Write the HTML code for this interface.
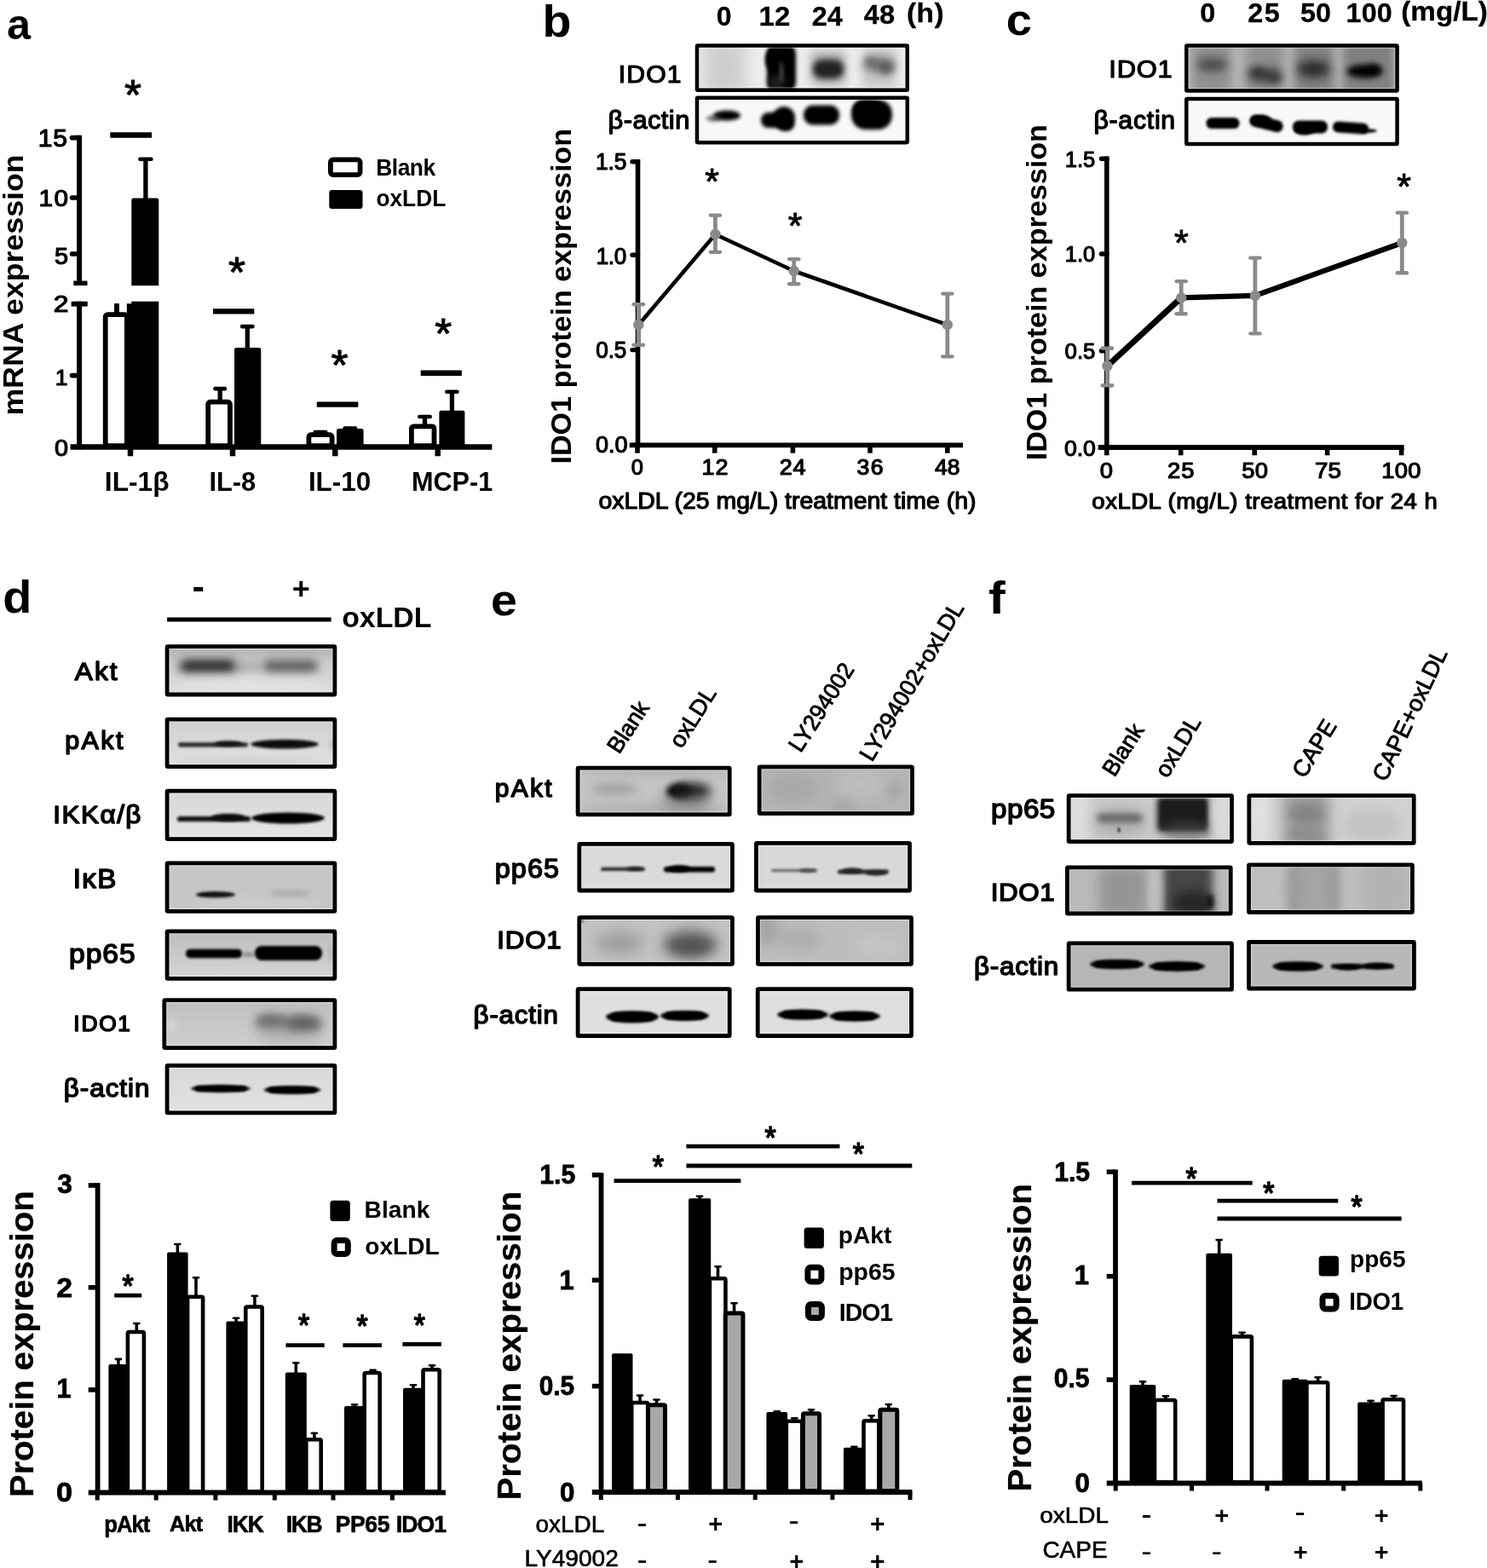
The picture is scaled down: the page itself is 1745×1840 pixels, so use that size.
<!DOCTYPE html>
<html lang="en"><head><meta charset="utf-8"><title>Figure</title>
<style>
html,body{margin:0;padding:0;background:#fff;}
body{width:1745px;height:1840px;overflow:hidden;}
svg{display:block;font-family:"Liberation Sans",Arial,Helvetica,sans-serif;}
</style></head><body>
<svg width="1745" height="1840" viewBox="0 0 1745 1840">
<defs>
<filter id="b1" x="-50%" y="-100%" width="200%" height="300%"><feGaussianBlur stdDeviation="1.2"/></filter>
<filter id="b1.2" x="-50%" y="-100%" width="200%" height="300%"><feGaussianBlur stdDeviation="1.4"/></filter>
<filter id="b2" x="-50%" y="-100%" width="200%" height="300%"><feGaussianBlur stdDeviation="2.2"/></filter>
<filter id="b2.2" x="-50%" y="-100%" width="200%" height="300%"><feGaussianBlur stdDeviation="1.8"/></filter>
<filter id="b3" x="-50%" y="-100%" width="200%" height="300%"><feGaussianBlur stdDeviation="3.5"/></filter>
<filter id="b5" x="-50%" y="-100%" width="200%" height="300%"><feGaussianBlur stdDeviation="5.5"/></filter>
<filter id="b8" x="-50%" y="-100%" width="200%" height="300%"><feGaussianBlur stdDeviation="8"/></filter>
</defs>
<rect width="1745" height="1840" fill="#fff"/>
<g id="panel-a">
<text transform="translate(9.50 45.80) scale(1.0020 1)" x="-1.51" y="0" font-size="50.23" font-weight="bold" fill="#000">a</text>
<text transform="translate(27.25 485.30) rotate(-90) scale(1.0500 1)" x="-2.21" y="0" font-size="33.99" font-weight="bold" fill="#000" letter-spacing="0.012">mRNA expression</text>
<line x1="93.1" y1="158.8" x2="93.1" y2="335" stroke="#000" stroke-width="6.0" stroke-linecap="butt"/>
<line x1="93.1" y1="353.8" x2="93.1" y2="527.5" stroke="#000" stroke-width="6.0" stroke-linecap="butt"/>
<line x1="82.5" y1="524.6" x2="577.4" y2="524.6" stroke="#000" stroke-width="6.5" stroke-linecap="butt"/>
<line x1="84.5" y1="161.6" x2="93.1" y2="161.6" stroke="#000" stroke-width="5.6" stroke-linecap="round"/>
<text transform="translate(46.30 171.61) scale(1.0500 1)" x="-1.58" y="0" font-size="28.67" font-weight="normal" fill="#000" letter-spacing="0.803" stroke="#000" stroke-width="1.2" stroke-linejoin="round">15</text>
<line x1="84.5" y1="232" x2="93.1" y2="232" stroke="#000" stroke-width="5.6" stroke-linecap="round"/>
<text transform="translate(47.00 241.62) scale(1.0500 1)" x="-1.55" y="0" font-size="28.27" font-weight="normal" fill="#000" letter-spacing="1.612" stroke="#000" stroke-width="1.2" stroke-linejoin="round">10</text>
<line x1="84.5" y1="298" x2="93.1" y2="298" stroke="#000" stroke-width="5.6" stroke-linecap="round"/>
<text transform="translate(64.50 310.12) scale(1.0234 1)" x="-0.55" y="0" font-size="28.39" font-weight="normal" fill="#000" stroke="#000" stroke-width="1.2" stroke-linejoin="round">5</text>
<text transform="translate(63.80 366.20) scale(1.1517 1)" x="-0.86" y="0" font-size="27.67" font-weight="normal" fill="#000" stroke="#000" stroke-width="1.2" stroke-linejoin="round">2</text>
<line x1="84.5" y1="440.6" x2="93.1" y2="440.6" stroke="#000" stroke-width="5.6" stroke-linecap="round"/>
<text transform="translate(66.07 451.90) scale(1.0000 1)" x="-1.40" y="0" font-size="26.62" font-weight="normal" fill="#000" stroke="#000" stroke-width="1.2" stroke-linejoin="round">1</text>
<text transform="translate(64.50 535.42) scale(1.0432 1)" x="-0.53" y="0" font-size="27.70" font-weight="normal" fill="#000" stroke="#000" stroke-width="1.2" stroke-linejoin="round">0</text>
<line x1="86.3" y1="332.3" x2="102.5" y2="332.3" stroke="#000" stroke-width="5.5" stroke-linecap="butt"/>
<line x1="83.8" y1="356.6" x2="102.5" y2="356.6" stroke="#000" stroke-width="5.5" stroke-linecap="butt"/>
<line x1="153" y1="524" x2="153" y2="535.3" stroke="#000" stroke-width="6.5" stroke-linecap="butt"/>
<line x1="273" y1="524" x2="273" y2="535.3" stroke="#000" stroke-width="6.5" stroke-linecap="butt"/>
<line x1="393.3" y1="524" x2="393.3" y2="535.3" stroke="#000" stroke-width="6.5" stroke-linecap="butt"/>
<line x1="513.7" y1="524" x2="513.7" y2="535.3" stroke="#000" stroke-width="6.5" stroke-linecap="butt"/>
<line x1="137" y1="356.3" x2="137" y2="370" stroke="#000" stroke-width="5.5" stroke-linecap="butt"/>
<rect x="123.7" y="369.2" width="25.200000000000014" height="153.89999999999998" fill="#fff" stroke="#000" stroke-width="5.8" rx="2.5" />
<line x1="170.9" y1="185.4" x2="170.9" y2="236" stroke="#000" stroke-width="5.3" stroke-linecap="butt"/>
<rect x="162.1" y="184.4" width="17.6" height="4.6" rx="2.3" fill="#000"/>
<rect x="154.3" y="232.5" width="32.0" height="293.5" fill="#000" stroke="none" stroke-width="0" rx="2.5" />
<rect x="148.8" y="356.3" width="10" height="168" fill="#000" stroke="none" stroke-width="0" rx="0" />
<rect x="110" y="335.2" width="80" height="18.5" fill="#fff" stroke="none" stroke-width="0" rx="0" />
<line x1="83.8" y1="356.6" x2="102.5" y2="356.6" stroke="#000" stroke-width="5.5" stroke-linecap="butt"/>
<line x1="137" y1="356.3" x2="137" y2="370" stroke="#000" stroke-width="5.5" stroke-linecap="butt"/>
<line x1="258.2" y1="454.8" x2="258.2" y2="472" stroke="#000" stroke-width="5.3" stroke-linecap="butt"/>
<rect x="250.04999999999998" y="453.8" width="16.3" height="4.6" rx="2.3" fill="#000"/>
<rect x="244.20000000000002" y="471.7" width="25.7" height="51.39999999999999" fill="#fff" stroke="#000" stroke-width="5.8" rx="2.5" />
<line x1="290.3" y1="381.8" x2="290.3" y2="412" stroke="#000" stroke-width="5.3" stroke-linecap="butt"/>
<rect x="281.8" y="380.8" width="17" height="4.6" rx="2.3" fill="#000"/>
<rect x="275" y="408" width="31.30000000000001" height="118" fill="#000" stroke="none" stroke-width="0" rx="2.5" />
<line x1="376" y1="505.8" x2="376" y2="512" stroke="#000" stroke-width="5.3" stroke-linecap="butt"/>
<rect x="367.5" y="504.8" width="17" height="4.6" rx="2.3" fill="#000"/>
<rect x="362.4" y="510.2" width="27.2" height="12.899999999999988" fill="#fff" stroke="#000" stroke-width="5.8" rx="2.5" />
<line x1="410.8" y1="501.3" x2="410.8" y2="508" stroke="#000" stroke-width="5.3" stroke-linecap="butt"/>
<rect x="402.3" y="500.3" width="17" height="4.6" rx="2.3" fill="#000"/>
<rect x="395" y="503" width="31.600000000000023" height="23" fill="#000" stroke="none" stroke-width="0" rx="2.5" />
<line x1="498.5" y1="487.7" x2="498.5" y2="500" stroke="#000" stroke-width="5.3" stroke-linecap="butt"/>
<rect x="490.0" y="486.7" width="17" height="4.6" rx="2.3" fill="#000"/>
<rect x="482.9" y="500.29999999999995" width="26.599999999999977" height="22.800000000000022" fill="#fff" stroke="#000" stroke-width="5.8" rx="2.5" />
<line x1="530.4" y1="458.5" x2="530.4" y2="486" stroke="#000" stroke-width="5.3" stroke-linecap="butt"/>
<rect x="522.05" y="457.5" width="16.7" height="4.6" rx="2.3" fill="#000"/>
<rect x="515.4" y="481.7" width="30.0" height="44.30000000000001" fill="#000" stroke="none" stroke-width="0" rx="2.5" />
<line x1="129.3" y1="158.5" x2="178" y2="158.5" stroke="#000" stroke-width="6.4" stroke-linecap="butt"/>
<text transform="translate(146.30 129.43) scale(1.0254 1)" x="-0.39" y="0" font-size="50.00" font-weight="normal" fill="#000" stroke="#000" stroke-width="1.0" stroke-linejoin="round">*</text>
<line x1="250" y1="365.4" x2="298.3" y2="365.4" stroke="#000" stroke-width="6.4" stroke-linecap="butt"/>
<text transform="translate(268.50 336.93) scale(1.0254 1)" x="-0.39" y="0" font-size="50.00" font-weight="normal" fill="#000" stroke="#000" stroke-width="1.0" stroke-linejoin="round">*</text>
<line x1="371.8" y1="474.6" x2="420.3" y2="474.6" stroke="#000" stroke-width="6.4" stroke-linecap="butt"/>
<text transform="translate(388.80 445.82) scale(1.0254 1)" x="-0.39" y="0" font-size="50.00" font-weight="normal" fill="#000" stroke="#000" stroke-width="1.0" stroke-linejoin="round">*</text>
<line x1="493.7" y1="437.8" x2="541.9" y2="437.8" stroke="#000" stroke-width="6.4" stroke-linecap="butt"/>
<text transform="translate(510.60 408.73) scale(1.0254 1)" x="-0.39" y="0" font-size="50.00" font-weight="normal" fill="#000" stroke="#000" stroke-width="1.0" stroke-linejoin="round">*</text>
<rect x="387.9" y="187.4" width="34.7" height="17.7" fill="#fff" stroke="#000" stroke-width="5.8" rx="3" />
<text transform="translate(443.00 205.53) scale(0.9600 1)" x="-1.86" y="0" font-size="27.48" font-weight="bold" fill="#000" letter-spacing="-0.499">Blank</text>
<rect x="386.3" y="223" width="39.2" height="22" fill="#000" stroke="none" stroke-width="0" rx="3" />
<text transform="translate(442.50 242.33) scale(0.9649 1)" x="-1.09" y="0" font-size="27.24" font-weight="bold" fill="#000">oxLDL</text>
<text transform="translate(125.00 575.55) scale(1.0191 1)" x="-2.10" y="0" font-size="31.10" font-weight="bold" fill="#000">IL-1β</text>
<text transform="translate(247.50 575.69) scale(0.9826 1)" x="-2.12" y="0" font-size="31.38" font-weight="bold" fill="#000">IL-8</text>
<text transform="translate(364.00 575.69) scale(1.0026 1)" x="-2.12" y="0" font-size="31.38" font-weight="bold" fill="#000">IL-10</text>
<text transform="translate(485.00 575.69) scale(0.9767 1)" x="-2.12" y="0" font-size="31.38" font-weight="bold" fill="#000">MCP-1</text>
</g>
<g id="panel-b">
<text transform="translate(640.00 43.17) scale(1.0530 1)" x="-3.42" y="0" font-size="52.65" font-weight="bold" fill="#000">b</text>
<text transform="translate(841.90 30.04) scale(1.0198 1)" x="-1.11" y="0" font-size="31.38" font-weight="bold" fill="#000" stroke="#000" stroke-width="0.3" stroke-linejoin="round">0</text>
<text transform="translate(892.40 29.55) scale(1.0500 1)" x="-1.82" y="0" font-size="31.40" font-weight="bold" fill="#000" letter-spacing="0.176" stroke="#000" stroke-width="0.3" stroke-linejoin="round">12</text>
<text transform="translate(953.60 29.55) scale(1.0329 1)" x="-0.95" y="0" font-size="31.40" font-weight="bold" fill="#000" stroke="#000" stroke-width="0.3" stroke-linejoin="round">24</text>
<text transform="translate(1014.20 27.54) scale(1.0384 1)" x="-0.33" y="0" font-size="31.38" font-weight="bold" fill="#000" stroke="#000" stroke-width="0.3" stroke-linejoin="round">48</text>
<text transform="translate(1065.50 25.74) scale(1.0500 1)" x="-1.45" y="0" font-size="31.85" font-weight="bold" fill="#000" letter-spacing="0.486" stroke="#000" stroke-width="0.3" stroke-linejoin="round">(h)</text>
<text transform="translate(728.00 96.81) scale(1.0500 1)" x="-2.08" y="0" font-size="28.69" font-weight="normal" fill="#000" letter-spacing="1.094" stroke="#000" stroke-width="1.2" stroke-linejoin="round">IDO1</text>
<text transform="translate(715.00 151.28) scale(1.0500 1)" x="-1.43" y="0" font-size="29.28" font-weight="normal" fill="#000" letter-spacing="0.463" stroke="#000" stroke-width="1.3" stroke-linejoin="round">β-actin</text>
<clipPath id="c1"><rect x="816.7" y="52.2" width="249.29999999999995" height="54.8"/></clipPath>
<g clip-path="url(#c1)">
<rect x="815.7" y="51.2" width="251.29999999999995" height="56.8" fill="#ececec" stroke="none" stroke-width="0" rx="0" />
<rect x="826" y="50" width="48" height="60" rx="2" fill="#b0b0b0" opacity="0.5" filter="url(#b8)"/>
<rect x="900" y="48" width="34" height="64" rx="16.15" fill="#000" opacity="1" filter="url(#b2)"/>
<ellipse cx="908" cy="70" rx="10" ry="14" fill="#000" opacity="1" filter="url(#b2)"/>
<ellipse cx="912" cy="97" rx="10" ry="10" fill="#222" opacity="0.9" filter="url(#b3)"/>
<ellipse cx="917" cy="84" rx="2.5" ry="12" fill="#555" opacity="0.8" filter="url(#b2)"/>
<rect x="954" y="70" width="36" height="22" rx="10.45" fill="#000" opacity="1" filter="url(#b3)"/>
<rect x="952" y="60" width="40" height="40" rx="2" fill="#555" opacity="0.4" filter="url(#b5)"/>
<ellipse cx="1032" cy="76" rx="18" ry="9" fill="#333" opacity="0.7" filter="url(#b5)"/>
<ellipse cx="1040" cy="80" rx="9" ry="8" fill="#222" opacity="0.6" filter="url(#b3)"/>
<ellipse cx="1022" cy="72" rx="8" ry="6" fill="#333" opacity="0.5" filter="url(#b3)"/>
<rect x="1012" y="56" width="40" height="48" rx="2" fill="#888" opacity="0.35" filter="url(#b5)"/>
<rect x="820.7" y="56.2" width="241.29999999999995" height="46.8" fill="none" stroke="#fff" stroke-width="1.2" rx="0" opacity="0.45"/>
</g>
<rect x="817.95" y="53.45" width="246.79999999999995" height="52.3" fill="none" stroke="#000" stroke-width="4.5" rx="0.8" />
<clipPath id="c2"><rect x="816.7" y="113.4" width="249.29999999999995" height="55.0"/></clipPath>
<g clip-path="url(#c2)">
<rect x="815.7" y="112.4" width="251.29999999999995" height="57.0" fill="#f8f8f8" stroke="none" stroke-width="0" rx="0" />
<ellipse cx="853" cy="135.5" rx="16" ry="6" fill="#000" opacity="1" filter="url(#b2)"/>
<ellipse cx="838" cy="139" rx="9" ry="3.5" fill="#333" opacity="0.7" filter="url(#b2)"/>
<rect x="893" y="132" width="30" height="18" rx="8.549999999999999" fill="#000" opacity="1" filter="url(#b2)"/>
<ellipse cx="920" cy="138" rx="13" ry="13" fill="#000" opacity="1" filter="url(#b2)"/>
<ellipse cx="922" cy="146" rx="10" ry="8" fill="#000" opacity="1" filter="url(#b2)"/>
<rect x="943" y="123.5" width="42" height="23.0" rx="10.924999999999999" fill="#000" opacity="1" filter="url(#b2)"/>
<rect x="999" y="117.0" width="48" height="35.0" rx="16.625" fill="#000" opacity="1" filter="url(#b2)"/>
<ellipse cx="1018" cy="128" rx="17" ry="12" fill="#000" opacity="1" filter="url(#b2)"/>
<rect x="820.7" y="117.4" width="241.29999999999995" height="47.0" fill="none" stroke="#fff" stroke-width="1.2" rx="0" opacity="0.45"/>
</g>
<rect x="817.95" y="114.65" width="246.79999999999995" height="52.5" fill="none" stroke="#000" stroke-width="4.5" rx="0.8" />
<line x1="749.3" y1="356" x2="749.3" y2="406" stroke="#8a8a8a" stroke-width="4.8" stroke-linecap="butt"/>
<rect x="741.5" y="355" width="15.6" height="4.3" rx="2.15" fill="#8a8a8a"/>
<rect x="741.5" y="402.7" width="15.6" height="4.3" rx="2.15" fill="#8a8a8a"/>
<line x1="839.4" y1="251.5" x2="839.4" y2="297" stroke="#8a8a8a" stroke-width="4.8" stroke-linecap="butt"/>
<rect x="831.6" y="250.5" width="15.6" height="4.3" rx="2.15" fill="#8a8a8a"/>
<rect x="831.6" y="293.7" width="15.6" height="4.3" rx="2.15" fill="#8a8a8a"/>
<line x1="931.7" y1="303" x2="931.7" y2="334.4" stroke="#8a8a8a" stroke-width="4.8" stroke-linecap="butt"/>
<rect x="923.9000000000001" y="302" width="15.6" height="4.3" rx="2.15" fill="#8a8a8a"/>
<rect x="923.9000000000001" y="331.09999999999997" width="15.6" height="4.3" rx="2.15" fill="#8a8a8a"/>
<line x1="1111.8" y1="343.4" x2="1111.8" y2="419.5" stroke="#8a8a8a" stroke-width="4.8" stroke-linecap="butt"/>
<rect x="1104.0" y="342.4" width="15.6" height="4.3" rx="2.15" fill="#8a8a8a"/>
<rect x="1104.0" y="416.2" width="15.6" height="4.3" rx="2.15" fill="#8a8a8a"/>
<line x1="748.5" y1="187" x2="748.5" y2="525.4" stroke="#000" stroke-width="5.6" stroke-linecap="butt"/>
<line x1="738.7" y1="522.4" x2="1130" y2="522.4" stroke="#000" stroke-width="5.8" stroke-linecap="butt"/>
<line x1="742.0" y1="189.7" x2="748.5" y2="189.7" stroke="#000" stroke-width="5.4" stroke-linecap="round"/>
<text transform="translate(700.50 198.92) scale(0.9600 1)" x="-1.44" y="0" font-size="27.53" font-weight="normal" fill="#000" letter-spacing="-0.205" stroke="#000" stroke-width="1.2" stroke-linejoin="round">1.5</text>
<line x1="742.0" y1="299.3" x2="748.5" y2="299.3" stroke="#000" stroke-width="5.4" stroke-linecap="round"/>
<text transform="translate(701.00 309.73) scale(0.9600 1)" x="-1.41" y="0" font-size="27.14" font-weight="normal" fill="#000" letter-spacing="-0.355" stroke="#000" stroke-width="1.2" stroke-linejoin="round">1.0</text>
<line x1="742.0" y1="410.6" x2="748.5" y2="410.6" stroke="#000" stroke-width="5.4" stroke-linecap="round"/>
<text transform="translate(699.80 419.53) scale(0.9600 1)" x="-0.46" y="0" font-size="27.14" font-weight="normal" fill="#000" letter-spacing="-0.171" stroke="#000" stroke-width="1.2" stroke-linejoin="round">0.5</text>
<line x1="742.0" y1="522.4" x2="748.5" y2="522.4" stroke="#000" stroke-width="5.4" stroke-linecap="round"/>
<text transform="translate(699.50 531.13) scale(0.9967 1)" x="-0.48" y="0" font-size="27.14" font-weight="normal" fill="#000" stroke="#000" stroke-width="1.2" stroke-linejoin="round">0.0</text>
<line x1="748" y1="522.4" x2="748" y2="531.6999999999999" stroke="#000" stroke-width="5.6" stroke-linecap="butt"/>
<text transform="translate(741.20 556.75) scale(1.0016 1)" x="-0.41" y="0" font-size="25.30" font-weight="normal" fill="#000" stroke="#000" stroke-width="1.2" stroke-linejoin="round">0</text>
<line x1="838.7" y1="522.4" x2="838.7" y2="531.6999999999999" stroke="#000" stroke-width="5.6" stroke-linecap="butt"/>
<text transform="translate(825.00 557.00) scale(1.0500 1)" x="-1.35" y="0" font-size="25.66" font-weight="normal" fill="#000" letter-spacing="0.912" stroke="#000" stroke-width="1.2" stroke-linejoin="round">12</text>
<line x1="930.4" y1="522.4" x2="930.4" y2="531.6999999999999" stroke="#000" stroke-width="5.6" stroke-linecap="butt"/>
<text transform="translate(915.60 557.00) scale(1.0500 1)" x="-0.71" y="0" font-size="25.66" font-weight="normal" fill="#000" letter-spacing="0.741" stroke="#000" stroke-width="1.2" stroke-linejoin="round">24</text>
<line x1="1021" y1="522.4" x2="1021" y2="531.6999999999999" stroke="#000" stroke-width="5.6" stroke-linecap="butt"/>
<text transform="translate(1006.00 556.75) scale(1.0500 1)" x="-0.38" y="0" font-size="25.30" font-weight="normal" fill="#000" letter-spacing="1.369" stroke="#000" stroke-width="1.2" stroke-linejoin="round">36</text>
<line x1="1111.8" y1="522.4" x2="1111.8" y2="531.6999999999999" stroke="#000" stroke-width="5.6" stroke-linecap="butt"/>
<text transform="translate(1097.00 556.75) scale(1.0401 1)" x="0.01" y="0" font-size="25.30" font-weight="normal" fill="#000" stroke="#000" stroke-width="1.2" stroke-linejoin="round">48</text>
<line x1="749.3" y1="356" x2="749.3" y2="406" stroke="#8a8a8a" stroke-width="4.8" stroke-linecap="butt"/>
<rect x="741.5" y="355" width="15.6" height="4.3" rx="2.15" fill="#8a8a8a"/>
<rect x="741.5" y="402.7" width="15.6" height="4.3" rx="2.15" fill="#8a8a8a"/>
<line x1="749.3" y1="381.2" x2="839.4" y2="275" stroke="#000" stroke-width="4.6" stroke-linecap="round"/>
<line x1="839.4" y1="275" x2="931.7" y2="318" stroke="#000" stroke-width="4.6" stroke-linecap="round"/>
<line x1="931.7" y1="318" x2="1111.8" y2="381.2" stroke="#000" stroke-width="4.6" stroke-linecap="round"/>
<circle cx="749.3" cy="381.2" r="6.2" fill="#8a8a8a"/>
<circle cx="839.4" cy="275" r="6.2" fill="#8a8a8a"/>
<circle cx="931.7" cy="318" r="6.2" fill="#8a8a8a"/>
<circle cx="1111.8" cy="381.2" r="6.2" fill="#8a8a8a"/>
<text transform="translate(827.60 226.56) scale(0.9859 1)" x="-0.25" y="0" font-size="43.43" font-weight="normal" fill="#000" stroke="#000" stroke-width="1.0" stroke-linejoin="round">*</text>
<text transform="translate(924.90 279.46) scale(0.9859 1)" x="-0.25" y="0" font-size="43.43" font-weight="normal" fill="#000" stroke="#000" stroke-width="1.0" stroke-linejoin="round">*</text>
<text transform="translate(703.00 597.43) scale(1.0405 1)" x="-0.59" y="0" font-size="27.35" font-weight="normal" fill="#000" stroke="#000" stroke-width="1.2" stroke-linejoin="round">oxLDL (25 mg/L) treatment time (h)</text>
<text transform="translate(670.38 542.20) rotate(-90) scale(1.0210 1)" x="-2.25" y="0" font-size="33.35" font-weight="bold" fill="#000">IDO1 protein expression</text>
</g>
<g id="panel-c">
<text transform="translate(1182.90 41.48) scale(1.0516 1)" x="-2.07" y="0" font-size="51.69" font-weight="bold" fill="#000">c</text>
<text transform="translate(1409.50 25.94) scale(1.0522 1)" x="-1.09" y="0" font-size="30.81" font-weight="bold" fill="#000" stroke="#000" stroke-width="0.3" stroke-linejoin="round">0</text>
<text transform="translate(1465.20 25.94) scale(1.0500 1)" x="-0.94" y="0" font-size="30.81" font-weight="bold" fill="#000" letter-spacing="1.438" stroke="#000" stroke-width="0.3" stroke-linejoin="round">25</text>
<text transform="translate(1526.90 25.94) scale(1.0500 1)" x="-0.78" y="0" font-size="30.81" font-weight="bold" fill="#000" letter-spacing="0.050" stroke="#000" stroke-width="0.3" stroke-linejoin="round">50</text>
<text transform="translate(1581.40 25.94) scale(1.0500 1)" x="-1.78" y="0" font-size="30.81" font-weight="bold" fill="#000" letter-spacing="0.127" stroke="#000" stroke-width="0.3" stroke-linejoin="round">100</text>
<text transform="translate(1645.80 24.32) scale(1.0490 1)" x="-1.44" y="0" font-size="31.68" font-weight="bold" fill="#000" stroke="#000" stroke-width="0.3" stroke-linejoin="round">(mg/L)</text>
<text transform="translate(1303.60 91.11) scale(1.0500 1)" x="-2.15" y="0" font-size="29.40" font-weight="normal" fill="#000" letter-spacing="0.736" stroke="#000" stroke-width="1.2" stroke-linejoin="round">IDO1</text>
<text transform="translate(1284.90 151.41) scale(1.0500 1)" x="-1.39" y="0" font-size="28.63" font-weight="normal" fill="#000" letter-spacing="0.772" stroke="#000" stroke-width="1.3" stroke-linejoin="round">β-actin</text>
<clipPath id="c3"><rect x="1391" y="52.2" width="249.79999999999995" height="55.5"/></clipPath>
<g clip-path="url(#c3)">
<rect x="1390" y="51.2" width="251.79999999999995" height="57.5" fill="#b4b4b4" stroke="none" stroke-width="0" rx="0" />
<rect x="1400" y="50" width="44" height="60" rx="2" fill="#8c8c8c" opacity="0.9" filter="url(#b5)"/>
<rect x="1462" y="50" width="44" height="60" rx="2" fill="#8c8c8c" opacity="0.9" filter="url(#b5)"/>
<rect x="1519" y="50" width="46" height="60" rx="2" fill="#7c7c7c" opacity="0.9" filter="url(#b5)"/>
<rect x="1576" y="50" width="60" height="60" rx="2" fill="#7a7a7a" opacity="0.9" filter="url(#b5)"/>
<ellipse cx="1422.7" cy="76" rx="18" ry="8" fill="#333" opacity="0.75" filter="url(#b5)"/>
<ellipse cx="1484" cy="88" rx="20" ry="9" fill="#2a2a2a" opacity="0.8" filter="url(#b5)"/>
<ellipse cx="1475" cy="84" rx="8" ry="6" fill="#222" opacity="0.5" filter="url(#b3)"/>
<ellipse cx="1496" cy="92" rx="8" ry="6" fill="#222" opacity="0.5" filter="url(#b3)"/>
<ellipse cx="1541.4" cy="81" rx="19" ry="10" fill="#1a1a1a" opacity="0.85" filter="url(#b5)"/>
<ellipse cx="1601.4" cy="83.7" rx="21" ry="8" fill="#000" opacity="1" filter="url(#b3)"/>
<ellipse cx="1612" cy="81" rx="8" ry="6" fill="#000" opacity="0.8" filter="url(#b3)"/>
<rect x="1395.0" y="56.2" width="241.79999999999995" height="47.5" fill="none" stroke="#fff" stroke-width="1.2" rx="0" opacity="0.45"/>
</g>
<rect x="1392.25" y="53.45" width="247.29999999999995" height="53.0" fill="none" stroke="#000" stroke-width="4.5" rx="0.8" />
<clipPath id="c4"><rect x="1391" y="114.7" width="249.79999999999995" height="55.499999999999986"/></clipPath>
<g clip-path="url(#c4)">
<rect x="1390" y="113.7" width="251.79999999999995" height="57.499999999999986" fill="#f8f8f8" stroke="none" stroke-width="0" rx="0" />
<rect x="1415.5" y="137.9" width="39.0" height="13.2" rx="6.27" fill="#000" opacity="1" filter="url(#b1.2)"/>
<rect x="1466" y="138" width="40" height="14" rx="6.6499999999999995" fill="#000" opacity="1" filter="url(#b1.2)" transform="rotate(14 1486 145)"/>
<ellipse cx="1480" cy="141" rx="12" ry="6.5" fill="#000" opacity="1" filter="url(#b1.2)"/>
<rect x="1517.0" y="141.5" width="41.0" height="15.0" rx="7.125" fill="#000" opacity="1" filter="url(#b1.2)"/>
<ellipse cx="1531" cy="152" rx="12" ry="6.5" fill="#000" opacity="1" filter="url(#b1.2)"/>
<rect x="1564" y="143.5" width="42" height="13.0" rx="6.175" fill="#000" opacity="1" filter="url(#b1.2)" transform="rotate(4 1585 150)"/>
<ellipse cx="1606" cy="153.5" rx="10" ry="2.2" fill="#000" opacity="1" filter="url(#b1.2)"/>
<rect x="1395.0" y="118.7" width="241.79999999999995" height="47.499999999999986" fill="none" stroke="#fff" stroke-width="1.2" rx="0" opacity="0.45"/>
</g>
<rect x="1392.25" y="115.95" width="247.29999999999995" height="52.999999999999986" fill="none" stroke="#000" stroke-width="4.5" rx="0.8" />
<line x1="1299.4" y1="407.5" x2="1299.4" y2="453.5" stroke="#8a8a8a" stroke-width="4.8" stroke-linecap="butt"/>
<rect x="1291.6000000000001" y="406.5" width="15.6" height="4.3" rx="2.15" fill="#8a8a8a"/>
<rect x="1291.6000000000001" y="450.2" width="15.6" height="4.3" rx="2.15" fill="#8a8a8a"/>
<line x1="1386.2" y1="329" x2="1386.2" y2="369.4" stroke="#8a8a8a" stroke-width="4.8" stroke-linecap="butt"/>
<rect x="1378.4" y="328" width="15.6" height="4.3" rx="2.15" fill="#8a8a8a"/>
<rect x="1378.4" y="366.09999999999997" width="15.6" height="4.3" rx="2.15" fill="#8a8a8a"/>
<line x1="1472.9" y1="301.4" x2="1472.9" y2="392.6" stroke="#8a8a8a" stroke-width="4.8" stroke-linecap="butt"/>
<rect x="1465.1000000000001" y="300.4" width="15.6" height="4.3" rx="2.15" fill="#8a8a8a"/>
<rect x="1465.1000000000001" y="389.3" width="15.6" height="4.3" rx="2.15" fill="#8a8a8a"/>
<line x1="1645.3" y1="248.5" x2="1645.3" y2="321.4" stroke="#8a8a8a" stroke-width="4.8" stroke-linecap="butt"/>
<rect x="1637.5" y="247.5" width="15.6" height="4.3" rx="2.15" fill="#8a8a8a"/>
<rect x="1637.5" y="318.09999999999997" width="15.6" height="4.3" rx="2.15" fill="#8a8a8a"/>
<line x1="1298.8" y1="183.5" x2="1298.8" y2="528" stroke="#000" stroke-width="5.6" stroke-linecap="butt"/>
<line x1="1288.7" y1="525" x2="1647.6" y2="525" stroke="#000" stroke-width="5.8" stroke-linecap="butt"/>
<line x1="1292.4" y1="186.3" x2="1298.8" y2="186.3" stroke="#000" stroke-width="5.4" stroke-linecap="round"/>
<text transform="translate(1251.10 195.54) scale(0.9692 1)" x="-1.36" y="0" font-size="26.38" font-weight="normal" fill="#000" stroke="#000" stroke-width="1.2" stroke-linejoin="round">1.5</text>
<line x1="1292.4" y1="298" x2="1298.8" y2="298" stroke="#000" stroke-width="5.4" stroke-linecap="round"/>
<text transform="translate(1251.10 307.24) scale(0.9812 1)" x="-1.34" y="0" font-size="26.01" font-weight="normal" fill="#000" stroke="#000" stroke-width="1.2" stroke-linejoin="round">1.0</text>
<line x1="1292.4" y1="411.8" x2="1298.8" y2="411.8" stroke="#000" stroke-width="5.4" stroke-linecap="round"/>
<text transform="translate(1250.00 420.94) scale(0.9892 1)" x="-0.43" y="0" font-size="26.01" font-weight="normal" fill="#000" stroke="#000" stroke-width="1.2" stroke-linejoin="round">0.5</text>
<line x1="1292.4" y1="525" x2="1298.8" y2="525" stroke="#000" stroke-width="5.4" stroke-linecap="round"/>
<text transform="translate(1249.40 534.54) scale(1.0195 1)" x="-0.45" y="0" font-size="26.01" font-weight="normal" fill="#000" stroke="#000" stroke-width="1.2" stroke-linejoin="round">0.0</text>
<line x1="1298.7" y1="525" x2="1298.7" y2="534.3" stroke="#000" stroke-width="5.6" stroke-linecap="butt"/>
<text transform="translate(1291.20 560.74) scale(1.0468 1)" x="-0.47" y="0" font-size="26.01" font-weight="normal" fill="#000" stroke="#000" stroke-width="1.2" stroke-linejoin="round">0</text>
<line x1="1385.7" y1="525" x2="1385.7" y2="534.3" stroke="#000" stroke-width="5.6" stroke-linecap="butt"/>
<text transform="translate(1370.80 560.74) scale(1.0500 1)" x="-0.73" y="0" font-size="26.01" font-weight="normal" fill="#000" letter-spacing="0.901" stroke="#000" stroke-width="1.2" stroke-linejoin="round">25</text>
<line x1="1472.2" y1="525" x2="1472.2" y2="534.3" stroke="#000" stroke-width="5.6" stroke-linecap="butt"/>
<text transform="translate(1457.80 560.74) scale(1.0500 1)" x="-0.47" y="0" font-size="26.01" font-weight="normal" fill="#000" letter-spacing="0.291" stroke="#000" stroke-width="1.2" stroke-linejoin="round">50</text>
<line x1="1557.6" y1="525" x2="1557.6" y2="534.3" stroke="#000" stroke-width="5.6" stroke-linecap="butt"/>
<text transform="translate(1543.90 560.74) scale(1.0500 1)" x="-0.81" y="0" font-size="26.38" font-weight="normal" fill="#000" letter-spacing="0.111" stroke="#000" stroke-width="1.2" stroke-linejoin="round">75</text>
<line x1="1644.6" y1="525" x2="1644.6" y2="534.3" stroke="#000" stroke-width="5.6" stroke-linecap="butt"/>
<text transform="translate(1622.60 560.74) scale(1.0500 1)" x="-1.38" y="0" font-size="26.01" font-weight="normal" fill="#000" letter-spacing="0.399" stroke="#000" stroke-width="1.2" stroke-linejoin="round">100</text>
<line x1="1299.4" y1="407.5" x2="1299.4" y2="453.5" stroke="#8a8a8a" stroke-width="4.8" stroke-linecap="butt"/>
<rect x="1291.6000000000001" y="406.5" width="15.6" height="4.3" rx="2.15" fill="#8a8a8a"/>
<rect x="1291.6000000000001" y="450.2" width="15.6" height="4.3" rx="2.15" fill="#8a8a8a"/>
<line x1="1299.4" y1="429.5" x2="1386.2" y2="349.4" stroke="#000" stroke-width="7" stroke-linecap="round"/>
<line x1="1386.2" y1="349.4" x2="1472.9" y2="346.9" stroke="#000" stroke-width="6.2" stroke-linecap="round"/>
<line x1="1472.9" y1="346.9" x2="1645.3" y2="285" stroke="#000" stroke-width="6.2" stroke-linecap="round"/>
<circle cx="1299.4" cy="429.5" r="6.2" fill="#8a8a8a"/>
<circle cx="1386.2" cy="349.4" r="6.2" fill="#8a8a8a"/>
<circle cx="1472.9" cy="346.9" r="6.2" fill="#8a8a8a"/>
<circle cx="1645.3" cy="285" r="6.2" fill="#8a8a8a"/>
<text transform="translate(1378.30 299.06) scale(0.9859 1)" x="-0.25" y="0" font-size="43.43" font-weight="normal" fill="#000" stroke="#000" stroke-width="1.0" stroke-linejoin="round">*</text>
<text transform="translate(1639.60 233.06) scale(0.9859 1)" x="-0.25" y="0" font-size="43.43" font-weight="normal" fill="#000" stroke="#000" stroke-width="1.0" stroke-linejoin="round">*</text>
<text transform="translate(1281.90 596.77) scale(1.0500 1)" x="-0.54" y="0" font-size="26.17" font-weight="normal" fill="#000" letter-spacing="0.495" stroke="#000" stroke-width="1.2" stroke-linejoin="round">oxLDL (mg/L) treatment for 24 h</text>
<text transform="translate(1228.08 538.00) rotate(-90) scale(1.0231 1)" x="-2.25" y="0" font-size="33.35" font-weight="bold" fill="#000">IDO1 protein expression</text>
</g>
<g id="panel-d">
<text transform="translate(5.50 719.46) scale(1.0391 1)" x="-2.15" y="0" font-size="53.74" font-weight="bold" fill="#000">d</text>
<text transform="translate(227.20 702.73) scale(1.0455 1)" x="-1.67" y="0" font-size="41.67" font-weight="bold" fill="#000">-</text>
<text transform="translate(344.30 702.76) scale(1.0440 1)" x="-1.47" y="0" font-size="34.48" font-weight="bold" fill="#000">+</text>
<line x1="196.1" y1="726.9" x2="388.6" y2="726.9" stroke="#000" stroke-width="5" stroke-linecap="butt"/>
<text transform="translate(402.50 735.86) scale(0.9920 1)" x="-1.36" y="0" font-size="34.12" font-weight="bold" fill="#000">oxLDL</text>
<text transform="translate(87.00 797.92) scale(1.0500 1)" x="0.64" y="0" font-size="30.03" font-weight="normal" fill="#000" letter-spacing="2.117" stroke="#000" stroke-width="1.5" stroke-linejoin="round">Akt</text>
<text transform="translate(77.50 879.22) scale(1.0500 1)" x="-1.17" y="0" font-size="29.06" font-weight="normal" fill="#000" letter-spacing="2.249" stroke="#000" stroke-width="1.5" stroke-linejoin="round">pAkt</text>
<text transform="translate(64.50 966.02) scale(1.0500 1)" x="-2.06" y="0" font-size="30.03" font-weight="normal" fill="#000" letter-spacing="1.382" stroke="#000" stroke-width="1.5" stroke-linejoin="round">IKKα/β</text>
<text transform="translate(88.00 1041.85) scale(1.0500 1)" x="-2.21" y="0" font-size="31.56" font-weight="normal" fill="#000" letter-spacing="1.341" stroke="#000" stroke-width="1.5" stroke-linejoin="round">IκB</text>
<text transform="translate(82.50 1130.10) scale(1.0500 1)" x="-1.37" y="0" font-size="32.04" font-weight="normal" fill="#000" letter-spacing="0.874" stroke="#000" stroke-width="1.5" stroke-linejoin="round">pp65</text>
<text transform="translate(88.00 1209.80) scale(1.0500 1)" x="-1.60" y="0" font-size="25.02" font-weight="normal" fill="#000" letter-spacing="1.685" stroke="#000" stroke-width="1.5" stroke-linejoin="round">IDO1</text>
<text transform="translate(76.20 1287.44) scale(1.0500 1)" x="-1.38" y="0" font-size="29.92" font-weight="normal" fill="#000" letter-spacing="0.931" stroke="#000" stroke-width="1.5" stroke-linejoin="round">β-actin</text>
<clipPath id="c5"><rect x="194.7" y="757.2" width="199.60000000000002" height="59.19999999999993"/></clipPath>
<g clip-path="url(#c5)">
<linearGradient id="g5" x1="0" y1="0" x2="0" y2="1"><stop offset="0" stop-color="#c4c4c4"/><stop offset="1" stop-color="#dedede"/></linearGradient>
<rect x="193.7" y="756.2" width="201.60000000000002" height="61.19999999999993" fill="url(#g5)" stroke="none" stroke-width="0" rx="0" />
<rect x="185" y="758" width="220" height="12" rx="2" fill="#b0b0b0" opacity="0.8" filter="url(#b5)"/>
<rect x="210" y="774.5" width="68" height="15.0" rx="7.125" fill="#2a2a2a" opacity="0.9" filter="url(#b5)"/>
<rect x="218" y="776" width="52" height="10" rx="4.75" fill="#333" opacity="0.6" filter="url(#b3)"/>
<rect x="309" y="775" width="64" height="14" rx="6.6499999999999995" fill="#3a3a3a" opacity="0.8" filter="url(#b5)"/>
<ellipse cx="292" cy="783" rx="20" ry="5" fill="#777" opacity="0.5" filter="url(#b5)"/>
<ellipse cx="295" cy="804" rx="95" ry="8" fill="#ededed" opacity="0.6" filter="url(#b8)"/>
<rect x="199.0" y="761.5" width="191.00000000000003" height="50.59999999999993" fill="none" stroke="#fff" stroke-width="1.2" rx="0" opacity="0.45"/>
</g>
<rect x="196.1" y="758.6" width="196.8" height="56.399999999999935" fill="none" stroke="#000" stroke-width="4.8" rx="0.8" />
<clipPath id="c6"><rect x="194.7" y="842.7" width="199.60000000000002" height="58.299999999999955"/></clipPath>
<g clip-path="url(#c6)">
<linearGradient id="g6" x1="0" y1="0" x2="0" y2="1"><stop offset="0" stop-color="#cfcfcf"/><stop offset="1" stop-color="#e2e2e2"/></linearGradient>
<rect x="193.7" y="841.7" width="201.60000000000002" height="60.299999999999955" fill="url(#g6)" stroke="none" stroke-width="0" rx="0" />
<rect x="209" y="871.1999999999999" width="82" height="5.2" rx="2.4699999999999998" fill="#1a1a1a" opacity="0.95" filter="url(#b2.2)"/>
<ellipse cx="268" cy="872.5" rx="16" ry="3.2" fill="#111" opacity="0.9" filter="url(#b2.2)"/>
<ellipse cx="334" cy="873.2" rx="40" ry="5.4" fill="#0a0a0a" opacity="1" filter="url(#b2.2)"/>
<ellipse cx="290" cy="893.5" rx="85" ry="2.5" fill="#aaa" opacity="0.55" filter="url(#b5)"/>
<ellipse cx="392" cy="874" rx="4" ry="5" fill="#777" opacity="0.6" filter="url(#b3)"/>
<rect x="199.0" y="847.0" width="191.00000000000003" height="49.69999999999995" fill="none" stroke="#fff" stroke-width="1.2" rx="0" opacity="0.45"/>
</g>
<rect x="196.1" y="844.1" width="196.8" height="55.49999999999996" fill="none" stroke="#000" stroke-width="4.8" rx="0.8" />
<clipPath id="c7"><rect x="194.7" y="926.7" width="199.60000000000002" height="59.299999999999955"/></clipPath>
<g clip-path="url(#c7)">
<linearGradient id="g7" x1="0" y1="0" x2="0" y2="1"><stop offset="0" stop-color="#d6d6d6"/><stop offset="1" stop-color="#e6e6e6"/></linearGradient>
<rect x="193.7" y="925.7" width="201.60000000000002" height="61.299999999999955" fill="url(#g7)" stroke="none" stroke-width="0" rx="0" />
<rect x="208" y="957.9" width="86" height="6.2" rx="2.945" fill="#111" opacity="1" filter="url(#b2.2)"/>
<ellipse cx="268" cy="959.2" rx="20" ry="4.4" fill="#111" opacity="1" filter="url(#b2.2)"/>
<ellipse cx="338" cy="960" rx="43" ry="6.6" fill="#050505" opacity="1" filter="url(#b2.2)"/>
<rect x="199.0" y="931.0" width="191.00000000000003" height="50.69999999999995" fill="none" stroke="#fff" stroke-width="1.2" rx="0" opacity="0.45"/>
</g>
<rect x="196.1" y="928.1" width="196.8" height="56.49999999999996" fill="none" stroke="#000" stroke-width="4.8" rx="0.8" />
<clipPath id="c8"><rect x="194.7" y="1011.4" width="199.60000000000002" height="59.30000000000007"/></clipPath>
<g clip-path="url(#c8)">
<rect x="193.7" y="1010.4" width="201.60000000000002" height="61.30000000000007" fill="#c6c6c6" stroke="none" stroke-width="0" rx="0" />
<ellipse cx="253" cy="1050" rx="23" ry="3.8" fill="#000" opacity="1" filter="url(#b2.2)"/>
<ellipse cx="340" cy="1049" rx="24" ry="2.5" fill="#666" opacity="0.5" filter="url(#b3)"/>
<ellipse cx="300" cy="1060" rx="80" ry="6" fill="#d2d2d2" opacity="0.6" filter="url(#b5)"/>
<rect x="199.0" y="1015.6999999999999" width="191.00000000000003" height="50.70000000000007" fill="none" stroke="#fff" stroke-width="1.2" rx="0" opacity="0.45"/>
</g>
<rect x="196.1" y="1012.8" width="196.8" height="56.50000000000007" fill="none" stroke="#000" stroke-width="4.8" rx="0.8" />
<clipPath id="c9"><rect x="194.7" y="1091.5" width="199.60000000000002" height="58.200000000000045"/></clipPath>
<g clip-path="url(#c9)">
<linearGradient id="g9" x1="0" y1="0" x2="0" y2="1"><stop offset="0" stop-color="#bcbcbc"/><stop offset="1" stop-color="#d6d6d6"/></linearGradient>
<rect x="193.7" y="1090.5" width="201.60000000000002" height="60.200000000000045" fill="url(#g9)" stroke="none" stroke-width="0" rx="0" />
<rect x="218" y="1113.8" width="66" height="10.4" rx="4.9399999999999995" fill="#000" opacity="1" filter="url(#b2.2)"/>
<rect x="299.0" y="1109.9" width="79.0" height="17.2" rx="8.17" fill="#000" opacity="1" filter="url(#b2.2)"/>
<ellipse cx="292" cy="1120" rx="8" ry="2" fill="#555" opacity="0.7" filter="url(#b2)"/>
<ellipse cx="391" cy="1120" rx="4" ry="8" fill="#888" opacity="0.5" filter="url(#b3)"/>
<rect x="199.0" y="1095.8" width="191.00000000000003" height="49.600000000000044" fill="none" stroke="#fff" stroke-width="1.2" rx="0" opacity="0.45"/>
</g>
<rect x="196.1" y="1092.9" width="196.8" height="55.40000000000005" fill="none" stroke="#000" stroke-width="4.8" rx="0.8" />
<clipPath id="c10"><rect x="191.4" y="1172.2" width="202.9" height="58.799999999999955"/></clipPath>
<g clip-path="url(#c10)">
<linearGradient id="g10" x1="0" y1="0" x2="0" y2="1"><stop offset="0" stop-color="#bdbdbd"/><stop offset="1" stop-color="#d0d0d0"/></linearGradient>
<rect x="190.4" y="1171.2" width="204.9" height="60.799999999999955" fill="url(#g10)" stroke="none" stroke-width="0" rx="0" />
<ellipse cx="318" cy="1198" rx="18" ry="7.5" fill="#4a4a4a" opacity="0.7" filter="url(#b5)"/>
<ellipse cx="355" cy="1201" rx="22" ry="8.5" fill="#3a3a3a" opacity="0.8" filter="url(#b5)"/>
<rect x="300" y="1191" width="76" height="18" rx="8.549999999999999" fill="#666" opacity="0.4" filter="url(#b5)"/>
<ellipse cx="340" cy="1214" rx="40" ry="10" fill="#888" opacity="0.4" filter="url(#b8)"/>
<ellipse cx="201" cy="1203" rx="5" ry="7" fill="#e0e0e0" opacity="0.8" filter="url(#b3)"/>
<rect x="195.70000000000002" y="1176.5" width="194.3" height="50.19999999999995" fill="none" stroke="#fff" stroke-width="1.2" rx="0" opacity="0.45"/>
</g>
<rect x="192.8" y="1173.6000000000001" width="200.1" height="55.99999999999996" fill="none" stroke="#000" stroke-width="4.8" rx="0.8" />
<clipPath id="c11"><rect x="194.7" y="1249" width="199.60000000000002" height="58.200000000000045"/></clipPath>
<g clip-path="url(#c11)">
<linearGradient id="g11" x1="0" y1="0" x2="0" y2="1"><stop offset="0" stop-color="#d8d8d8"/><stop offset="1" stop-color="#e2e2e2"/></linearGradient>
<rect x="193.7" y="1248" width="201.60000000000002" height="60.200000000000045" fill="url(#g11)" stroke="none" stroke-width="0" rx="0" />
<ellipse cx="259" cy="1277.4" rx="35" ry="4.3" fill="#000" opacity="1" filter="url(#b2.2)"/>
<rect x="229" y="1274.4" width="60" height="6" rx="2.8499999999999996" fill="#000" opacity="1" filter="url(#b2.2)"/>
<ellipse cx="343" cy="1279" rx="33.5" ry="4.8" fill="#000" opacity="1" filter="url(#b2.2)"/>
<rect x="315" y="1275.8" width="56" height="6.4" rx="3.04" fill="#000" opacity="1" filter="url(#b2.2)"/>
<rect x="199.0" y="1253.3" width="191.00000000000003" height="49.600000000000044" fill="none" stroke="#fff" stroke-width="1.2" rx="0" opacity="0.45"/>
</g>
<rect x="196.1" y="1250.4" width="196.8" height="55.40000000000005" fill="none" stroke="#000" stroke-width="4.8" rx="0.8" />
<line x1="160.3" y1="1552.7" x2="160.3" y2="1562.7" stroke="#000" stroke-width="3.6" stroke-linecap="butt"/>
<rect x="156.0" y="1551.7" width="8.6" height="2.6" rx="1" fill="#000"/>
<rect x="149.9" y="1563.0" width="18.999999999999993" height="187.19999999999996" fill="#fff" stroke="#000" stroke-width="4.6" rx="1.5" />
<line x1="138.9" y1="1594.6" x2="138.9" y2="1603" stroke="#000" stroke-width="3.6" stroke-linecap="butt"/>
<rect x="134.6" y="1593.6" width="8.6" height="2.6" rx="1" fill="#000"/>
<rect x="127.4" y="1601" width="23.0" height="150.5" fill="#000" stroke="none" stroke-width="0" rx="2" />
<line x1="230.0" y1="1499" x2="230.0" y2="1521.4" stroke="#000" stroke-width="3.6" stroke-linecap="butt"/>
<rect x="225.7" y="1498" width="8.6" height="2.6" rx="1" fill="#000"/>
<rect x="220.1" y="1521.7" width="18.00000000000002" height="228.49999999999991" fill="#fff" stroke="#000" stroke-width="4.6" rx="1.5" />
<line x1="208.35" y1="1459.7" x2="208.35" y2="1471.5" stroke="#000" stroke-width="3.6" stroke-linecap="butt"/>
<rect x="204.04999999999998" y="1458.7" width="8.6" height="2.6" rx="1" fill="#000"/>
<rect x="196.1" y="1469.5" width="24.5" height="282.0" fill="#000" stroke="none" stroke-width="0" rx="2" />
<line x1="298.9" y1="1520.5" x2="298.9" y2="1533.2" stroke="#000" stroke-width="3.6" stroke-linecap="butt"/>
<rect x="294.59999999999997" y="1519.5" width="8.6" height="2.6" rx="1" fill="#000"/>
<rect x="288.3" y="1533.5" width="19.4" height="216.69999999999996" fill="#fff" stroke="#000" stroke-width="4.6" rx="1.5" />
<line x1="277.1" y1="1546.5" x2="277.1" y2="1552.4" stroke="#000" stroke-width="3.6" stroke-linecap="butt"/>
<rect x="272.8" y="1545.5" width="8.6" height="2.6" rx="1" fill="#000"/>
<rect x="265.4" y="1550.4" width="23.400000000000034" height="201.0999999999999" fill="#000" stroke="none" stroke-width="0" rx="2" />
<line x1="368.9" y1="1681.5" x2="368.9" y2="1689" stroke="#000" stroke-width="3.6" stroke-linecap="butt"/>
<rect x="364.59999999999997" y="1680.5" width="8.6" height="2.6" rx="1" fill="#000"/>
<rect x="359.3" y="1689.3" width="17.4" height="60.9" fill="#fff" stroke="#000" stroke-width="4.6" rx="1.5" />
<line x1="347.3" y1="1599" x2="347.3" y2="1612.5" stroke="#000" stroke-width="3.6" stroke-linecap="butt"/>
<rect x="343.0" y="1598" width="8.6" height="2.6" rx="1" fill="#000"/>
<rect x="334.8" y="1610.5" width="25.0" height="141.0" fill="#000" stroke="none" stroke-width="0" rx="2" />
<line x1="437.6" y1="1607.5" x2="437.6" y2="1610.7" stroke="#000" stroke-width="3.6" stroke-linecap="butt"/>
<rect x="433.3" y="1606.5" width="8.6" height="2.6" rx="1" fill="#000"/>
<rect x="427.7" y="1611.0" width="18.00000000000002" height="139.19999999999996" fill="#fff" stroke="#000" stroke-width="4.6" rx="1.5" />
<line x1="416.1" y1="1648" x2="416.1" y2="1652" stroke="#000" stroke-width="3.6" stroke-linecap="butt"/>
<rect x="411.8" y="1647" width="8.6" height="2.6" rx="1" fill="#000"/>
<rect x="404" y="1650" width="24.19999999999999" height="101.5" fill="#000" stroke="none" stroke-width="0" rx="2" />
<line x1="507.0" y1="1602" x2="507.0" y2="1607" stroke="#000" stroke-width="3.6" stroke-linecap="butt"/>
<rect x="502.7" y="1601" width="8.6" height="2.6" rx="1" fill="#000"/>
<rect x="496.5" y="1607.3" width="19.20000000000001" height="142.9" fill="#fff" stroke="#000" stroke-width="4.6" rx="1.5" />
<line x1="485.0" y1="1625" x2="485.0" y2="1630.7" stroke="#000" stroke-width="3.6" stroke-linecap="butt"/>
<rect x="480.7" y="1624" width="8.6" height="2.6" rx="1" fill="#000"/>
<rect x="473" y="1628.7" width="24" height="122.79999999999995" fill="#000" stroke="none" stroke-width="0" rx="2" />
<line x1="114.6" y1="1388" x2="114.6" y2="1754.0" stroke="#000" stroke-width="5.8" stroke-linecap="butt"/>
<line x1="103.7" y1="1751.5" x2="523" y2="1751.5" stroke="#000" stroke-width="5.8" stroke-linecap="butt"/>
<line x1="103.7" y1="1391" x2="114.6" y2="1391" stroke="#000" stroke-width="5.6" stroke-linecap="butt"/>
<line x1="103.7" y1="1510.8" x2="114.6" y2="1510.8" stroke="#000" stroke-width="5.6" stroke-linecap="butt"/>
<line x1="103.7" y1="1630.9" x2="114.6" y2="1630.9" stroke="#000" stroke-width="5.6" stroke-linecap="butt"/>
<line x1="114.2" y1="1751.5" x2="114.2" y2="1760.5" stroke="#000" stroke-width="5" stroke-linecap="butt"/>
<line x1="183.2" y1="1751.5" x2="183.2" y2="1760.5" stroke="#000" stroke-width="5" stroke-linecap="butt"/>
<line x1="252.9" y1="1751.5" x2="252.9" y2="1760.5" stroke="#000" stroke-width="5" stroke-linecap="butt"/>
<line x1="322.3" y1="1751.5" x2="322.3" y2="1760.5" stroke="#000" stroke-width="5" stroke-linecap="butt"/>
<line x1="391" y1="1751.5" x2="391" y2="1760.5" stroke="#000" stroke-width="5" stroke-linecap="butt"/>
<line x1="460.4" y1="1751.5" x2="460.4" y2="1760.5" stroke="#000" stroke-width="5" stroke-linecap="butt"/>
<text transform="translate(67.50 1400.45) scale(1.0347 1)" x="-0.30" y="0" font-size="30.50" font-weight="bold" fill="#000" stroke="#000" stroke-width="0.8" stroke-linejoin="round">3</text>
<text transform="translate(67.00 1521.64) scale(1.1066 1)" x="-0.71" y="0" font-size="30.50" font-weight="bold" fill="#000" stroke="#000" stroke-width="0.8" stroke-linejoin="round">2</text>
<text transform="translate(67.92 1640.48) scale(1.0000 1)" x="-1.51" y="0" font-size="30.50" font-weight="bold" fill="#000" stroke="#000" stroke-width="0.8" stroke-linejoin="round">1</text>
<text transform="translate(67.00 1762.28) scale(1.1182 1)" x="-0.86" y="0" font-size="30.50" font-weight="bold" fill="#000" stroke="#000" stroke-width="0.8" stroke-linejoin="round">0</text>
<line x1="134.2" y1="1520.2" x2="166.2" y2="1520.2" stroke="#000" stroke-width="4.8" stroke-linecap="butt"/>
<text transform="translate(143.20 1521.85) scale(0.9390 1)" x="0.22" y="0" font-size="36.00" font-weight="normal" fill="#000" stroke="#000" stroke-width="1.6" stroke-linejoin="round">*</text>
<line x1="335.4" y1="1578.7" x2="380.7" y2="1578.7" stroke="#000" stroke-width="4.8" stroke-linecap="butt"/>
<text transform="translate(349.80 1567.85) scale(0.9390 1)" x="0.22" y="0" font-size="36.00" font-weight="normal" fill="#000" stroke="#000" stroke-width="1.6" stroke-linejoin="round">*</text>
<line x1="402.4" y1="1578.7" x2="447.9" y2="1578.7" stroke="#000" stroke-width="4.8" stroke-linecap="butt"/>
<text transform="translate(418.20 1568.65) scale(0.9390 1)" x="0.22" y="0" font-size="36.00" font-weight="normal" fill="#000" stroke="#000" stroke-width="1.6" stroke-linejoin="round">*</text>
<line x1="472.4" y1="1577.4" x2="517.9" y2="1577.4" stroke="#000" stroke-width="4.8" stroke-linecap="butt"/>
<text transform="translate(485.60 1567.65) scale(0.9390 1)" x="0.22" y="0" font-size="36.00" font-weight="normal" fill="#000" stroke="#000" stroke-width="1.6" stroke-linejoin="round">*</text>
<rect x="387.4" y="1408.7" width="23.4" height="24.3" fill="#000" stroke="none" stroke-width="0" rx="3.5" />
<text transform="translate(429.40 1428.62) scale(1.0168 1)" x="-1.87" y="0" font-size="27.76" font-weight="bold" fill="#000">Blank</text>
<rect x="392.1" y="1455.5" width="16.19999999999999" height="16" fill="#fff" stroke="#000" stroke-width="7" rx="3.5" />
<text transform="translate(429.40 1472.42) scale(1.0217 1)" x="-1.10" y="0" font-size="27.53" font-weight="bold" fill="#000">oxLDL</text>
<text transform="translate(123.70 1797.74) scale(0.9600 1)" x="-1.43" y="0" font-size="26.81" font-weight="bold" fill="#000" letter-spacing="-1.148" stroke="#000" stroke-width="0.6" stroke-linejoin="round">pAkt</text>
<text transform="translate(199.20 1797.44) scale(0.9600 1)" x="-0.35" y="0" font-size="26.39" font-weight="bold" fill="#000" letter-spacing="-0.805" stroke="#000" stroke-width="0.6" stroke-linejoin="round">Akt</text>
<text transform="translate(267.90 1797.70) scale(0.9600 1)" x="-1.54" y="0" font-size="27.49" font-weight="bold" fill="#000" letter-spacing="-1.101" stroke="#000" stroke-width="0.6" stroke-linejoin="round">IKK</text>
<text transform="translate(337.30 1797.70) scale(0.9600 1)" x="-1.54" y="0" font-size="27.49" font-weight="bold" fill="#000" letter-spacing="-1.349" stroke="#000" stroke-width="0.6" stroke-linejoin="round">IKB</text>
<text transform="translate(395.00 1798.12) scale(0.9600 1)" x="-1.56" y="0" font-size="27.70" font-weight="bold" fill="#000" letter-spacing="-0.381" stroke="#000" stroke-width="0.6" stroke-linejoin="round">PP65</text>
<text transform="translate(466.20 1798.12) scale(0.9600 1)" x="-1.56" y="0" font-size="27.70" font-weight="bold" fill="#000" letter-spacing="-0.905" stroke="#000" stroke-width="0.6" stroke-linejoin="round">IDO1</text>
<text transform="translate(39.01 1754.40) rotate(-90) scale(1.0127 1)" x="-2.57" y="0" font-size="39.46" font-weight="bold" fill="#000" stroke="#000" stroke-width="0.2" stroke-linejoin="round">Protein expression</text>
</g>
<g id="panel-e">
<text transform="translate(578.10 721.97) scale(1.0559 1)" x="-2.10" y="0" font-size="52.60" font-weight="bold" fill="#000">e</text>
<text transform="translate(727.50 884.40) rotate(-56.87) scale(0.9804 1)" x="-1.77" y="0" font-size="27.00" font-weight="normal" fill="#000" stroke="#000" stroke-width="0.9" stroke-linejoin="round">Blank</text>
<text transform="translate(800.10 879.00) rotate(-57.81) scale(1.0033 1)" x="-0.70" y="0" font-size="27.00" font-weight="normal" fill="#000" stroke="#000" stroke-width="0.9" stroke-linejoin="round">oxLDL</text>
<text transform="translate(940.50 882.90) rotate(-57.12) scale(0.9721 1)" x="-1.76" y="0" font-size="27.00" font-weight="normal" fill="#000" stroke="#000" stroke-width="0.9" stroke-linejoin="round">LY294002</text>
<text transform="translate(1024.20 893.60) rotate(-59.09) scale(0.9856 1)" x="-1.77" y="0" font-size="27.00" font-weight="normal" fill="#000" stroke="#000" stroke-width="0.9" stroke-linejoin="round">LY294002+oxLDL</text>
<text transform="translate(582.00 934.51) scale(1.0500 1)" x="-1.15" y="0" font-size="28.63" font-weight="normal" fill="#000" letter-spacing="2.080" stroke="#000" stroke-width="1.5" stroke-linejoin="round">pAkt</text>
<text transform="translate(582.00 1030.25) scale(1.0500 1)" x="-1.29" y="0" font-size="30.83" font-weight="normal" fill="#000" letter-spacing="1.065" stroke="#000" stroke-width="1.5" stroke-linejoin="round">pp65</text>
<text transform="translate(585.50 1112.95) scale(1.0500 1)" x="-2.04" y="0" font-size="29.82" font-weight="normal" fill="#000" letter-spacing="0.744" stroke="#000" stroke-width="1.5" stroke-linejoin="round">IDO1</text>
<text transform="translate(557.00 1201.06) scale(1.0500 1)" x="-1.37" y="0" font-size="29.81" font-weight="normal" fill="#000" letter-spacing="0.776" stroke="#000" stroke-width="1.5" stroke-linejoin="round">β-actin</text>
<clipPath id="c12"><rect x="676.7" y="899.7" width="180.89999999999998" height="57.5"/></clipPath>
<g clip-path="url(#c12)">
<rect x="675.7" y="898.7" width="182.89999999999998" height="59.5" fill="#c4c4c4" stroke="none" stroke-width="0" rx="0" />
<ellipse cx="721" cy="926" rx="28" ry="6" fill="#777" opacity="0.5" filter="url(#b5)"/>
<ellipse cx="797" cy="928.5" rx="15" ry="9" fill="#000" opacity="1" filter="url(#b3)"/>
<ellipse cx="812" cy="928" rx="22" ry="9" fill="#111" opacity="0.9" filter="url(#b5)"/>
<ellipse cx="805" cy="940" rx="28" ry="11" fill="#444" opacity="0.55" filter="url(#b8)"/>
<ellipse cx="767" cy="950" rx="90" ry="6" fill="#999" opacity="0.5" filter="url(#b5)"/>
<ellipse cx="767" cy="906" rx="90" ry="4" fill="#aaa" opacity="0.6" filter="url(#b3)"/>
<rect x="681.0" y="904.0" width="172.29999999999998" height="48.9" fill="none" stroke="#fff" stroke-width="1.2" rx="0" opacity="0.45"/>
</g>
<rect x="678.1" y="901.1" width="178.09999999999997" height="54.7" fill="none" stroke="#000" stroke-width="4.8" rx="0.8" />
<clipPath id="c13"><rect x="889.7" y="898.5" width="182.20000000000005" height="57.5"/></clipPath>
<g clip-path="url(#c13)">
<rect x="888.7" y="897.5" width="184.20000000000005" height="59.5" fill="#b4b4b4" stroke="none" stroke-width="0" rx="0" />
<ellipse cx="930" cy="925" rx="30" ry="18" fill="#a0a0a0" opacity="0.6" filter="url(#b8)"/>
<ellipse cx="1010" cy="920" rx="30" ry="18" fill="#c4c4c4" opacity="0.6" filter="url(#b8)"/>
<ellipse cx="990" cy="945" rx="14" ry="6" fill="#999" opacity="0.6" filter="url(#b5)"/>
<ellipse cx="1050" cy="927" rx="10" ry="8" fill="#999" opacity="0.6" filter="url(#b5)"/>
<rect x="894.0" y="902.8" width="173.60000000000005" height="48.9" fill="none" stroke="#fff" stroke-width="1.2" rx="0" opacity="0.45"/>
</g>
<rect x="891.1" y="899.9" width="179.40000000000003" height="54.7" fill="none" stroke="#000" stroke-width="4.8" rx="0.8" />
<clipPath id="c14"><rect x="678.4" y="989" width="182.39999999999998" height="57.40000000000009"/></clipPath>
<g clip-path="url(#c14)">
<rect x="677.4" y="988" width="184.39999999999998" height="59.40000000000009" fill="#dadada" stroke="none" stroke-width="0" rx="0" />
<rect x="705" y="1017.6999999999999" width="52" height="4.2" rx="1.9949999999999999" fill="#222" opacity="0.95" filter="url(#b1.2)"/>
<ellipse cx="745" cy="1019.5" rx="10" ry="2.6" fill="#222" opacity="0.9" filter="url(#b1.2)"/>
<rect x="779" y="1017.0999999999999" width="60" height="6.4" rx="3.04" fill="#000" opacity="1" filter="url(#b1.2)"/>
<ellipse cx="797" cy="1019.3" rx="13" ry="4" fill="#000" opacity="1" filter="url(#b1.2)"/>
<rect x="682.6999999999999" y="993.3" width="173.79999999999998" height="48.80000000000009" fill="none" stroke="#fff" stroke-width="1.2" rx="0" opacity="0.45"/>
</g>
<rect x="679.8" y="990.4" width="179.59999999999997" height="54.600000000000094" fill="none" stroke="#000" stroke-width="4.8" rx="0.8" />
<clipPath id="c15"><rect x="886" y="988" width="182.9000000000001" height="58.40000000000009"/></clipPath>
<g clip-path="url(#c15)">
<rect x="885" y="987" width="184.9000000000001" height="60.40000000000009" fill="#d8d8d8" stroke="none" stroke-width="0" rx="0" />
<rect x="905" y="1019.7" width="54" height="3.6" rx="1.71" fill="#555" opacity="0.85" filter="url(#b1.2)"/>
<ellipse cx="948" cy="1021.5" rx="10" ry="2.3" fill="#444" opacity="0.85" filter="url(#b1.2)"/>
<rect x="983" y="1020.4" width="60" height="5.2" rx="2.4699999999999998" fill="#222" opacity="1" filter="url(#b1.2)"/>
<ellipse cx="1000" cy="1021.8" rx="12" ry="3.2" fill="#222" opacity="0.95" filter="url(#b1.2)"/>
<ellipse cx="1028" cy="1024.5" rx="12" ry="3" fill="#222" opacity="0.95" filter="url(#b1.2)"/>
<rect x="890.3" y="992.3" width="174.3000000000001" height="49.80000000000009" fill="none" stroke="#fff" stroke-width="1.2" rx="0" opacity="0.45"/>
</g>
<rect x="887.4" y="989.4" width="180.10000000000008" height="55.600000000000094" fill="none" stroke="#000" stroke-width="4.8" rx="0.8" />
<clipPath id="c16"><rect x="678.4" y="1075.2" width="182.39999999999998" height="57.5"/></clipPath>
<g clip-path="url(#c16)">
<rect x="677.4" y="1074.2" width="184.39999999999998" height="59.5" fill="#c2c2c2" stroke="none" stroke-width="0" rx="0" />
<ellipse cx="727" cy="1106" rx="28" ry="13" fill="#808080" opacity="0.55" filter="url(#b8)"/>
<ellipse cx="810" cy="1108" rx="32" ry="16" fill="#444" opacity="0.8" filter="url(#b8)"/>
<ellipse cx="810" cy="1112" rx="24" ry="9" fill="#444" opacity="0.45" filter="url(#b5)"/>
<ellipse cx="682" cy="1080" rx="3" ry="3" fill="#444" opacity="0.8" filter="url(#b1)"/>
<rect x="682.6999999999999" y="1079.5" width="173.79999999999998" height="48.9" fill="none" stroke="#fff" stroke-width="1.2" rx="0" opacity="0.45"/>
</g>
<rect x="679.8" y="1076.6000000000001" width="179.59999999999997" height="54.7" fill="none" stroke="#000" stroke-width="4.8" rx="0.8" />
<clipPath id="c17"><rect x="888" y="1075.2" width="182.9000000000001" height="57.5"/></clipPath>
<g clip-path="url(#c17)">
<rect x="887" y="1074.2" width="184.9000000000001" height="59.5" fill="#bdbdbd" stroke="none" stroke-width="0" rx="0" />
<ellipse cx="940" cy="1102" rx="24" ry="12" fill="#9a9a9a" opacity="0.5" filter="url(#b8)"/>
<ellipse cx="900" cy="1090" rx="14" ry="20" fill="#888" opacity="0.5" filter="url(#b8)"/>
<ellipse cx="1030" cy="1110" rx="30" ry="14" fill="#ccc" opacity="0.5" filter="url(#b8)"/>
<rect x="892.3" y="1079.5" width="174.3000000000001" height="48.9" fill="none" stroke="#fff" stroke-width="1.2" rx="0" opacity="0.45"/>
</g>
<rect x="889.4" y="1076.6000000000001" width="180.10000000000008" height="54.7" fill="none" stroke="#000" stroke-width="4.8" rx="0.8" />
<clipPath id="c18"><rect x="676.7" y="1159.2" width="180.89999999999998" height="57.700000000000045"/></clipPath>
<g clip-path="url(#c18)">
<rect x="675.7" y="1158.2" width="182.89999999999998" height="59.700000000000045" fill="#dfdfdf" stroke="none" stroke-width="0" rx="0" />
<ellipse cx="742" cy="1193.3" rx="31" ry="7" fill="#000" opacity="1" filter="url(#b2.2)"/>
<rect x="717" y="1188.3" width="50" height="10" rx="4.75" fill="#000" opacity="1" filter="url(#b2.2)"/>
<ellipse cx="803.5" cy="1191.9" rx="28.5" ry="6" fill="#000" opacity="1" filter="url(#b2.2)"/>
<rect x="780.5" y="1187.7" width="46" height="8.4" rx="3.9899999999999998" fill="#000" opacity="1" filter="url(#b2.2)"/>
<rect x="681.0" y="1163.5" width="172.29999999999998" height="49.100000000000044" fill="none" stroke="#fff" stroke-width="1.2" rx="0" opacity="0.45"/>
</g>
<rect x="678.1" y="1160.6000000000001" width="178.09999999999997" height="54.90000000000005" fill="none" stroke="#000" stroke-width="4.8" rx="0.8" />
<clipPath id="c19"><rect x="887.8" y="1159.2" width="183.10000000000014" height="57.700000000000045"/></clipPath>
<g clip-path="url(#c19)">
<rect x="886.8" y="1158.2" width="185.10000000000014" height="59.700000000000045" fill="#dedede" stroke="none" stroke-width="0" rx="0" />
<ellipse cx="942" cy="1190.6" rx="30" ry="6" fill="#000" opacity="1" filter="url(#b2.2)"/>
<rect x="918" y="1186.3999999999999" width="48" height="8.4" rx="3.9899999999999998" fill="#000" opacity="1" filter="url(#b2.2)"/>
<ellipse cx="1003" cy="1192.5" rx="30" ry="6" fill="#000" opacity="1" filter="url(#b2.2)"/>
<rect x="979" y="1188.3" width="48" height="8.4" rx="3.9899999999999998" fill="#000" opacity="1" filter="url(#b2.2)"/>
<rect x="892.0999999999999" y="1163.5" width="174.50000000000014" height="49.100000000000044" fill="none" stroke="#fff" stroke-width="1.2" rx="0" opacity="0.45"/>
</g>
<rect x="889.1999999999999" y="1160.6000000000001" width="180.30000000000013" height="54.90000000000005" fill="none" stroke="#000" stroke-width="4.8" rx="0.8" />
<line x1="751.0" y1="1637.2" x2="751.0" y2="1645.7" stroke="#000" stroke-width="3.6" stroke-linecap="butt"/>
<rect x="746.7" y="1636.2" width="8.6" height="2.6" rx="1" fill="#000"/>
<rect x="741.1999999999999" y="1646.0" width="19.00000000000002" height="103.69999999999996" fill="#fff" stroke="#000" stroke-width="4.6" rx="1.5" />
<line x1="770.5" y1="1642.2" x2="770.5" y2="1648.2" stroke="#000" stroke-width="3.6" stroke-linecap="butt"/>
<rect x="766.2" y="1641.2" width="8.6" height="2.6" rx="1" fill="#000"/>
<rect x="760.5" y="1648.7" width="20" height="100.79999999999995" fill="#a8a8a8" stroke="#000" stroke-width="5" rx="1.5" />
<rect x="718" y="1588.2" width="24.5" height="162.79999999999995" fill="#000" stroke="none" stroke-width="0" rx="2" />
<line x1="842.45" y1="1486" x2="842.45" y2="1499.9" stroke="#000" stroke-width="3.6" stroke-linecap="butt"/>
<rect x="838.1500000000001" y="1485" width="8.6" height="2.6" rx="1" fill="#000"/>
<rect x="832.9" y="1500.2" width="18.50000000000002" height="249.49999999999991" fill="#fff" stroke="#000" stroke-width="4.6" rx="1.5" />
<line x1="861.55" y1="1529" x2="861.55" y2="1540.6" stroke="#000" stroke-width="3.6" stroke-linecap="butt"/>
<rect x="857.25" y="1528" width="8.6" height="2.6" rx="1" fill="#000"/>
<rect x="851.2" y="1541.1" width="20.699999999999932" height="208.4000000000001" fill="#a8a8a8" stroke="#000" stroke-width="5" rx="1.5" />
<line x1="821.1" y1="1403.5" x2="821.1" y2="1408.2" stroke="#000" stroke-width="3.6" stroke-linecap="butt"/>
<rect x="816.8000000000001" y="1402.5" width="8.6" height="2.6" rx="1" fill="#000"/>
<rect x="808" y="1406.2" width="26.200000000000045" height="344.79999999999995" fill="#000" stroke="none" stroke-width="0" rx="2" />
<line x1="932.35" y1="1664" x2="932.35" y2="1667.4" stroke="#000" stroke-width="3.6" stroke-linecap="butt"/>
<rect x="928.0500000000001" y="1663" width="8.6" height="2.6" rx="1" fill="#000"/>
<rect x="922.8" y="1667.7" width="18.50000000000002" height="81.99999999999991" fill="#fff" stroke="#000" stroke-width="4.6" rx="1.5" />
<line x1="952.0" y1="1654" x2="952.0" y2="1658.2" stroke="#000" stroke-width="3.6" stroke-linecap="butt"/>
<rect x="947.7" y="1653" width="8.6" height="2.6" rx="1" fill="#000"/>
<rect x="942.4" y="1658.7" width="19.200000000000045" height="90.79999999999995" fill="#a8a8a8" stroke="#000" stroke-width="5" rx="1.5" />
<line x1="911.75" y1="1656" x2="911.75" y2="1659" stroke="#000" stroke-width="3.6" stroke-linecap="butt"/>
<rect x="907.45" y="1655" width="8.6" height="2.6" rx="1" fill="#000"/>
<rect x="899.4" y="1657" width="24.700000000000045" height="94" fill="#000" stroke="none" stroke-width="0" rx="2" />
<line x1="1022.6999999999998" y1="1661" x2="1022.6999999999998" y2="1667" stroke="#000" stroke-width="3.6" stroke-linecap="butt"/>
<rect x="1018.3999999999999" y="1660" width="8.6" height="2.6" rx="1" fill="#000"/>
<rect x="1013.4999999999999" y="1667.3" width="17.799999999999976" height="82.4" fill="#fff" stroke="#000" stroke-width="4.6" rx="1.5" />
<line x1="1042.8" y1="1647.7" x2="1042.8" y2="1653.7" stroke="#000" stroke-width="3.6" stroke-linecap="butt"/>
<rect x="1038.5" y="1646.7" width="8.6" height="2.6" rx="1" fill="#000"/>
<rect x="1032.8" y="1654.2" width="20.0" height="95.29999999999995" fill="#a8a8a8" stroke="#000" stroke-width="5" rx="1.5" />
<line x1="1002.3499999999999" y1="1697.5" x2="1002.3499999999999" y2="1700.7" stroke="#000" stroke-width="3.6" stroke-linecap="butt"/>
<rect x="998.05" y="1696.5" width="8.6" height="2.6" rx="1" fill="#000"/>
<rect x="989.9" y="1698.7" width="24.899999999999977" height="52.299999999999955" fill="#000" stroke="none" stroke-width="0" rx="2" />
<line x1="705.5" y1="1376.2" x2="705.5" y2="1753.5" stroke="#000" stroke-width="5.8" stroke-linecap="butt"/>
<line x1="694.8" y1="1751" x2="1070.4" y2="1751" stroke="#000" stroke-width="5.8" stroke-linecap="butt"/>
<line x1="694.8" y1="1378.8" x2="705.5" y2="1378.8" stroke="#000" stroke-width="5.6" stroke-linecap="butt"/>
<line x1="694.8" y1="1502.2" x2="705.5" y2="1502.2" stroke="#000" stroke-width="5.6" stroke-linecap="butt"/>
<line x1="694.8" y1="1626.6" x2="705.5" y2="1626.6" stroke="#000" stroke-width="5.6" stroke-linecap="butt"/>
<line x1="705.3" y1="1751" x2="705.3" y2="1760" stroke="#000" stroke-width="5" stroke-linecap="butt"/>
<line x1="795.4" y1="1751" x2="795.4" y2="1760" stroke="#000" stroke-width="5" stroke-linecap="butt"/>
<line x1="886.2" y1="1751" x2="886.2" y2="1760" stroke="#000" stroke-width="5" stroke-linecap="butt"/>
<line x1="976.9" y1="1751" x2="976.9" y2="1760" stroke="#000" stroke-width="5" stroke-linecap="butt"/>
<line x1="1068" y1="1751" x2="1068" y2="1760" stroke="#000" stroke-width="5" stroke-linecap="butt"/>
<text transform="translate(634.80 1389.00) scale(0.9727 1)" x="-1.53" y="0" font-size="31.00" font-weight="bold" fill="#000" stroke="#000" stroke-width="0.8" stroke-linejoin="round">1.5</text>
<text transform="translate(657.92 1512.96) scale(1.0000 1)" x="-1.54" y="0" font-size="31.00" font-weight="bold" fill="#000" stroke="#000" stroke-width="0.8" stroke-linejoin="round">1</text>
<text transform="translate(633.60 1637.16) scale(0.9600 1)" x="-0.82" y="0" font-size="31.00" font-weight="bold" fill="#000" letter-spacing="-0.082" stroke="#000" stroke-width="0.8" stroke-linejoin="round">0.5</text>
<text transform="translate(657.90 1761.66) scale(1.0119 1)" x="-0.84" y="0" font-size="31.00" font-weight="bold" fill="#000" stroke="#000" stroke-width="0.8" stroke-linejoin="round">0</text>
<line x1="720.5" y1="1385.7" x2="869.4" y2="1385.7" stroke="#000" stroke-width="4.8" stroke-linecap="butt"/>
<text transform="translate(765.50 1381.75) scale(0.9390 1)" x="0.22" y="0" font-size="36.00" font-weight="normal" fill="#000" stroke="#000" stroke-width="1.6" stroke-linejoin="round">*</text>
<line x1="805.4" y1="1345.2" x2="985.4" y2="1345.2" stroke="#000" stroke-width="4.8" stroke-linecap="butt"/>
<text transform="translate(897.20 1348.15) scale(0.9390 1)" x="0.22" y="0" font-size="36.00" font-weight="normal" fill="#000" stroke="#000" stroke-width="1.6" stroke-linejoin="round">*</text>
<line x1="805.4" y1="1368" x2="1070.3" y2="1368" stroke="#000" stroke-width="4.8" stroke-linecap="butt"/>
<text transform="translate(1000.50 1366.85) scale(0.9390 1)" x="0.22" y="0" font-size="36.00" font-weight="normal" fill="#000" stroke="#000" stroke-width="1.6" stroke-linejoin="round">*</text>
<rect x="943.6" y="1440.4" width="23.3" height="24.6" fill="#000" stroke="none" stroke-width="0" rx="3.5" />
<text transform="translate(985.60 1458.99) scale(1.0420 1)" x="-1.76" y="0" font-size="27.02" font-weight="bold" fill="#000">pAkt</text>
<rect x="947.9" y="1487.2" width="16.0" height="16.700000000000045" fill="#fff" stroke="#000" stroke-width="7" rx="3.5" />
<text transform="translate(986.10 1501.96) scale(1.0462 1)" x="-1.77" y="0" font-size="27.18" font-weight="bold" fill="#000">pp65</text>
<rect x="948.4" y="1530.5" width="16.0" height="16" fill="#a8a8a8" stroke="#000" stroke-width="7" rx="3.5" />
<text transform="translate(986.60 1549.90) scale(0.9600 1)" x="-1.99" y="0" font-size="29.54" font-weight="bold" fill="#000" letter-spacing="-0.956">IDO1</text>
<text transform="translate(629.40 1797.83) scale(1.0250 1)" x="-0.87" y="0" font-size="27.24" font-weight="normal" fill="#000" stroke="#000" stroke-width="0.6" stroke-linejoin="round">oxLDL</text>
<text transform="translate(617.40 1838.42) scale(1.0159 1)" x="-1.99" y="0" font-size="27.70" font-weight="normal" fill="#000" stroke="#000" stroke-width="0.6" stroke-linejoin="round">LY49002</text>
<text transform="translate(749.20 1795.53) scale(1.4421 1)" x="-0.97" y="0" font-size="24.17" font-weight="bold" fill="#000">-</text>
<text transform="translate(832.40 1798.46) scale(0.9812 1)" x="-1.26" y="0" font-size="29.56" font-weight="bold" fill="#000">+</text>
<text transform="translate(926.90 1793.07) scale(1.5615 1)" x="-0.93" y="0" font-size="23.33" font-weight="bold" fill="#000">-</text>
<text transform="translate(1022.30 1798.46) scale(1.0150 1)" x="-1.26" y="0" font-size="29.56" font-weight="bold" fill="#000">+</text>
<text transform="translate(749.20 1838.73) scale(1.4421 1)" x="-0.97" y="0" font-size="24.17" font-weight="bold" fill="#000">-</text>
<text transform="translate(831.70 1838.73) scale(1.4749 1)" x="-0.97" y="0" font-size="24.17" font-weight="bold" fill="#000">-</text>
<text transform="translate(927.40 1841.66) scale(0.9812 1)" x="-1.26" y="0" font-size="29.56" font-weight="bold" fill="#000">+</text>
<text transform="translate(1022.30 1841.66) scale(1.0150 1)" x="-1.26" y="0" font-size="29.56" font-weight="bold" fill="#000">+</text>
<text transform="translate(611.03 1758.00) rotate(-90) scale(1.0244 1)" x="-2.56" y="0" font-size="39.36" font-weight="bold" fill="#000" stroke="#000" stroke-width="0.2" stroke-linejoin="round">Protein expression</text>
</g>
<g id="panel-f">
<text transform="translate(1161.10 719.50) scale(1.0868 1)" x="-0.95" y="0" font-size="54.48" font-weight="bold" fill="#000">f</text>
<text transform="translate(1308.60 911.20) rotate(-57.53) scale(0.9840 1)" x="-1.77" y="0" font-size="27.00" font-weight="normal" fill="#000" stroke="#000" stroke-width="0.9" stroke-linejoin="round">Blank</text>
<text transform="translate(1370.40 913.70) rotate(-59.18) scale(1.0024 1)" x="-0.70" y="0" font-size="27.00" font-weight="normal" fill="#000" stroke="#000" stroke-width="0.9" stroke-linejoin="round">oxLDL</text>
<text transform="translate(1531.30 913.70) rotate(-58.40) scale(1.0059 1)" x="-0.90" y="0" font-size="27.00" font-weight="normal" fill="#000" stroke="#000" stroke-width="0.9" stroke-linejoin="round">CAPE</text>
<text transform="translate(1626.60 917.70) rotate(-64.44) scale(1.0096 1)" x="-0.90" y="0" font-size="27.00" font-weight="normal" fill="#000" stroke="#000" stroke-width="0.9" stroke-linejoin="round">CAPE+oxLDL</text>
<text transform="translate(1164.50 960.19) scale(1.0500 1)" x="-1.34" y="0" font-size="31.60" font-weight="normal" fill="#000" letter-spacing="0.424" stroke="#000" stroke-width="1.5" stroke-linejoin="round">pp65</text>
<text transform="translate(1164.90 1056.95) scale(1.0500 1)" x="-2.04" y="0" font-size="29.82" font-weight="normal" fill="#000" letter-spacing="0.553" stroke="#000" stroke-width="1.5" stroke-linejoin="round">IDO1</text>
<text transform="translate(1144.40 1144.36) scale(1.0500 1)" x="-1.37" y="0" font-size="29.81" font-weight="normal" fill="#000" letter-spacing="0.760" stroke="#000" stroke-width="1.5" stroke-linejoin="round">β-actin</text>
<clipPath id="c20"><rect x="1252.7" y="932.2" width="194.20000000000005" height="56.799999999999955"/></clipPath>
<g clip-path="url(#c20)">
<rect x="1251.7" y="931.2" width="196.20000000000005" height="58.799999999999955" fill="#cacaca" stroke="none" stroke-width="0" rx="0" />
<ellipse cx="1265" cy="960" rx="14" ry="40" fill="#e4e4e4" opacity="0.8" filter="url(#b8)"/>
<rect x="1288" y="955" width="52" height="10" rx="4.75" fill="#3a3a3a" opacity="0.85" filter="url(#b3)"/>
<ellipse cx="1314" cy="964" rx="32" ry="16" fill="#8a8a8a" opacity="0.45" filter="url(#b8)"/>
<ellipse cx="1313" cy="974" rx="2" ry="3" fill="#333" opacity="0.8" filter="url(#b1)"/>
<rect x="1358" y="935" width="60" height="40" rx="2" fill="#1c1c1c" opacity="1" filter="url(#b3)"/>
<rect x="1362" y="940" width="52" height="34" rx="2" fill="#1c1c1c" opacity="1" filter="url(#b2)"/>
<ellipse cx="1392" cy="976" rx="30" ry="12" fill="#555" opacity="0.55" filter="url(#b5)"/>
<ellipse cx="1436" cy="960" rx="9" ry="40" fill="#e4e4e4" opacity="0.85" filter="url(#b8)"/>
<rect x="1257.0" y="936.5" width="185.60000000000005" height="48.19999999999995" fill="none" stroke="#fff" stroke-width="1.2" rx="0" opacity="0.45"/>
</g>
<rect x="1254.1000000000001" y="933.6" width="191.40000000000003" height="53.99999999999996" fill="none" stroke="#000" stroke-width="4.8" rx="0.8" />
<clipPath id="c21"><rect x="1464.4" y="932.2" width="196.19999999999982" height="58.5"/></clipPath>
<g clip-path="url(#c21)">
<rect x="1463.4" y="931.2" width="198.19999999999982" height="60.5" fill="#d2d2d2" stroke="none" stroke-width="0" rx="0" />
<rect x="1506" y="928" width="54" height="68" rx="2" fill="#858585" opacity="0.75" filter="url(#b8)"/>
<ellipse cx="1533" cy="955" rx="22" ry="10" fill="#6a6a6a" opacity="0.45" filter="url(#b5)"/>
<ellipse cx="1533" cy="982" rx="24" ry="8" fill="#777" opacity="0.4" filter="url(#b5)"/>
<ellipse cx="1610" cy="968" rx="36" ry="20" fill="#b8b8b8" opacity="0.6" filter="url(#b8)"/>
<ellipse cx="1478" cy="960" rx="10" ry="40" fill="#e8e8e8" opacity="0.85" filter="url(#b8)"/>
<rect x="1468.7" y="936.5" width="187.59999999999982" height="49.9" fill="none" stroke="#fff" stroke-width="1.2" rx="0" opacity="0.45"/>
</g>
<rect x="1465.8000000000002" y="933.6" width="193.3999999999998" height="55.7" fill="none" stroke="#000" stroke-width="4.8" rx="0.8" />
<clipPath id="c22"><rect x="1251" y="1016.4" width="194.5999999999999" height="57.000000000000114"/></clipPath>
<g clip-path="url(#c22)">
<rect x="1250" y="1015.4" width="196.5999999999999" height="59.000000000000114" fill="#b9b9b9" stroke="none" stroke-width="0" rx="0" />
<rect x="1290" y="1016" width="56" height="60" rx="2" fill="#858585" opacity="0.7" filter="url(#b8)"/>
<rect x="1365" y="1012" width="58" height="68" rx="2" fill="#333" opacity="0.85" filter="url(#b5)"/>
<ellipse cx="1400" cy="1060" rx="24" ry="14" fill="#1a1a1a" opacity="0.75" filter="url(#b5)"/>
<ellipse cx="1420" cy="1058" rx="4" ry="8" fill="#111" opacity="0.8" filter="url(#b2)"/>
<ellipse cx="1356" cy="1045" rx="6" ry="40" fill="#ccc" opacity="0.7" filter="url(#b5)"/>
<rect x="1255.3" y="1020.6999999999999" width="185.99999999999991" height="48.40000000000011" fill="none" stroke="#fff" stroke-width="1.2" rx="0" opacity="0.45"/>
</g>
<rect x="1252.4" y="1017.8" width="191.7999999999999" height="54.20000000000012" fill="none" stroke="#000" stroke-width="4.8" rx="0.8" />
<clipPath id="c23"><rect x="1464.1" y="1013.4" width="194.70000000000005" height="58.500000000000114"/></clipPath>
<g clip-path="url(#c23)">
<rect x="1463.1" y="1012.4" width="196.70000000000005" height="60.500000000000114" fill="#bfbfbf" stroke="none" stroke-width="0" rx="0" />
<ellipse cx="1520" cy="1044" rx="10" ry="40" fill="#8c8c8c" opacity="0.7" filter="url(#b5)"/>
<ellipse cx="1563" cy="1044" rx="10" ry="40" fill="#8c8c8c" opacity="0.7" filter="url(#b5)"/>
<rect x="1519" y="1004" width="44" height="80" rx="2" fill="#9c9c9c" opacity="0.75" filter="url(#b8)"/>
<ellipse cx="1625" cy="1044" rx="30" ry="40" fill="#aaa" opacity="0.6" filter="url(#b8)"/>
<rect x="1468.3999999999999" y="1017.6999999999999" width="186.10000000000005" height="49.90000000000011" fill="none" stroke="#fff" stroke-width="1.2" rx="0" opacity="0.45"/>
</g>
<rect x="1465.5" y="1014.8" width="191.90000000000003" height="55.70000000000012" fill="none" stroke="#000" stroke-width="4.8" rx="0.8" />
<clipPath id="c24"><rect x="1252.7" y="1105.4" width="194.20000000000005" height="57.19999999999982"/></clipPath>
<g clip-path="url(#c24)">
<rect x="1251.7" y="1104.4" width="196.20000000000005" height="59.19999999999982" fill="#b6b6b6" stroke="none" stroke-width="0" rx="0" />
<ellipse cx="1311" cy="1131.5" rx="32" ry="5.6" fill="#000" opacity="1" filter="url(#b2.2)"/>
<rect x="1285" y="1127.7" width="52" height="7.6" rx="3.61" fill="#000" opacity="1" filter="url(#b2.2)"/>
<ellipse cx="1381" cy="1134" rx="33" ry="5.8" fill="#000" opacity="1" filter="url(#b2.2)"/>
<rect x="1354" y="1130" width="54" height="8" rx="3.8" fill="#000" opacity="1" filter="url(#b2.2)"/>
<rect x="1257.0" y="1109.7" width="185.60000000000005" height="48.59999999999982" fill="none" stroke="#fff" stroke-width="1.2" rx="0" opacity="0.45"/>
</g>
<rect x="1254.1000000000001" y="1106.8000000000002" width="191.40000000000003" height="54.39999999999982" fill="none" stroke="#000" stroke-width="4.8" rx="0.8" />
<clipPath id="c25"><rect x="1464.1" y="1104.1" width="196.70000000000005" height="57.30000000000018"/></clipPath>
<g clip-path="url(#c25)">
<rect x="1463.1" y="1103.1" width="198.70000000000005" height="59.30000000000018" fill="#b8b8b8" stroke="none" stroke-width="0" rx="0" />
<ellipse cx="1523" cy="1134" rx="30" ry="5.6" fill="#000" opacity="1" filter="url(#b2.2)"/>
<rect x="1499" y="1130.2" width="48" height="7.6" rx="3.61" fill="#000" opacity="1" filter="url(#b2.2)"/>
<rect x="1562" y="1131.2" width="74" height="5.6" rx="2.6599999999999997" fill="#000" opacity="1" filter="url(#b2.2)"/>
<ellipse cx="1582" cy="1135" rx="14" ry="3.6" fill="#000" opacity="1" filter="url(#b2.2)"/>
<ellipse cx="1617" cy="1133.5" rx="16" ry="3.8" fill="#000" opacity="1" filter="url(#b2.2)"/>
<rect x="1468.3999999999999" y="1108.3999999999999" width="188.10000000000005" height="48.70000000000018" fill="none" stroke="#fff" stroke-width="1.2" rx="0" opacity="0.45"/>
</g>
<rect x="1465.5" y="1105.5" width="193.90000000000003" height="54.500000000000185" fill="none" stroke="#000" stroke-width="4.8" rx="0.8" />
<line x1="1367.9" y1="1638" x2="1367.9" y2="1642.7" stroke="#000" stroke-width="3.6" stroke-linecap="butt"/>
<rect x="1363.6000000000001" y="1637" width="8.6" height="2.6" rx="1" fill="#000"/>
<rect x="1355.0" y="1643.0" width="24.199999999999953" height="96.19999999999996" fill="#fff" stroke="#000" stroke-width="4.6" rx="1.5" />
<line x1="1341.0" y1="1621" x2="1341.0" y2="1627" stroke="#000" stroke-width="3.6" stroke-linecap="butt"/>
<rect x="1336.7" y="1620" width="8.6" height="2.6" rx="1" fill="#000"/>
<rect x="1325.7" y="1625" width="30.59999999999991" height="115.5" fill="#000" stroke="none" stroke-width="0" rx="2" />
<line x1="1457.6" y1="1563.5" x2="1457.6" y2="1568.1" stroke="#000" stroke-width="3.6" stroke-linecap="butt"/>
<rect x="1453.3" y="1562.5" width="8.6" height="2.6" rx="1" fill="#000"/>
<rect x="1444.7" y="1568.3999999999999" width="24.199999999999953" height="170.8000000000001" fill="#fff" stroke="#000" stroke-width="4.6" rx="1.5" />
<line x1="1430.65" y1="1454.7" x2="1430.65" y2="1472.7" stroke="#000" stroke-width="3.6" stroke-linecap="butt"/>
<rect x="1426.3500000000001" y="1453.7" width="8.6" height="2.6" rx="1" fill="#000"/>
<rect x="1415.3" y="1470.7" width="30.700000000000045" height="269.79999999999995" fill="#000" stroke="none" stroke-width="0" rx="2" />
<line x1="1546.6" y1="1616" x2="1546.6" y2="1622" stroke="#000" stroke-width="3.6" stroke-linecap="butt"/>
<rect x="1542.3" y="1615" width="8.6" height="2.6" rx="1" fill="#000"/>
<rect x="1533.4" y="1622.3" width="24.799999999999862" height="116.9" fill="#fff" stroke="#000" stroke-width="4.6" rx="1.5" />
<line x1="1519.7" y1="1618" x2="1519.7" y2="1620.7" stroke="#000" stroke-width="3.6" stroke-linecap="butt"/>
<rect x="1515.4" y="1617" width="8.6" height="2.6" rx="1" fill="#000"/>
<rect x="1504.7" y="1618.7" width="30.0" height="121.79999999999995" fill="#000" stroke="none" stroke-width="0" rx="2" />
<line x1="1635.6" y1="1637.7" x2="1635.6" y2="1642" stroke="#000" stroke-width="3.6" stroke-linecap="butt"/>
<rect x="1631.3" y="1636.7" width="8.6" height="2.6" rx="1" fill="#000"/>
<rect x="1622.6000000000001" y="1642.3" width="24.39999999999977" height="96.9" fill="#fff" stroke="#000" stroke-width="4.6" rx="1.5" />
<line x1="1608.5500000000002" y1="1643.5" x2="1608.5500000000002" y2="1647.5" stroke="#000" stroke-width="3.6" stroke-linecap="butt"/>
<rect x="1604.2500000000002" y="1642.5" width="8.6" height="2.6" rx="1" fill="#000"/>
<rect x="1593.2" y="1645.5" width="30.700000000000045" height="95.0" fill="#000" stroke="none" stroke-width="0" rx="2" />
<line x1="1309" y1="1372.5" x2="1309" y2="1743.0" stroke="#000" stroke-width="5.8" stroke-linecap="butt"/>
<line x1="1298.7" y1="1740.5" x2="1668.8" y2="1740.5" stroke="#000" stroke-width="5.8" stroke-linecap="butt"/>
<line x1="1298.7" y1="1375.2" x2="1309" y2="1375.2" stroke="#000" stroke-width="5.6" stroke-linecap="butt"/>
<line x1="1298.7" y1="1497.7" x2="1309" y2="1497.7" stroke="#000" stroke-width="5.6" stroke-linecap="butt"/>
<line x1="1298.7" y1="1619.1" x2="1309" y2="1619.1" stroke="#000" stroke-width="5.6" stroke-linecap="butt"/>
<line x1="1309.2" y1="1740.5" x2="1309.2" y2="1749.5" stroke="#000" stroke-width="5" stroke-linecap="butt"/>
<line x1="1398.5" y1="1740.5" x2="1398.5" y2="1749.5" stroke="#000" stroke-width="5" stroke-linecap="butt"/>
<line x1="1487" y1="1740.5" x2="1487" y2="1749.5" stroke="#000" stroke-width="5" stroke-linecap="butt"/>
<line x1="1576.7" y1="1740.5" x2="1576.7" y2="1749.5" stroke="#000" stroke-width="5" stroke-linecap="butt"/>
<line x1="1666.8" y1="1740.5" x2="1666.8" y2="1749.5" stroke="#000" stroke-width="5" stroke-linecap="butt"/>
<text transform="translate(1238.70 1385.50) scale(0.9727 1)" x="-1.53" y="0" font-size="31.00" font-weight="bold" fill="#000" stroke="#000" stroke-width="0.8" stroke-linejoin="round">1.5</text>
<text transform="translate(1262.32 1506.96) scale(1.0000 1)" x="-1.54" y="0" font-size="31.00" font-weight="bold" fill="#000" stroke="#000" stroke-width="0.8" stroke-linejoin="round">1</text>
<text transform="translate(1237.50 1628.16) scale(0.9684 1)" x="-0.83" y="0" font-size="31.00" font-weight="bold" fill="#000" stroke="#000" stroke-width="0.8" stroke-linejoin="round">0.5</text>
<text transform="translate(1262.40 1750.96) scale(1.0051 1)" x="-0.84" y="0" font-size="31.00" font-weight="bold" fill="#000" stroke="#000" stroke-width="0.8" stroke-linejoin="round">0</text>
<line x1="1328" y1="1388.2" x2="1469.7" y2="1388.2" stroke="#000" stroke-width="4.8" stroke-linecap="butt"/>
<text transform="translate(1391.40 1396.15) scale(0.9390 1)" x="0.22" y="0" font-size="36.00" font-weight="normal" fill="#000" stroke="#000" stroke-width="1.6" stroke-linejoin="round">*</text>
<line x1="1428.5" y1="1409.2" x2="1570.3" y2="1409.2" stroke="#000" stroke-width="4.8" stroke-linecap="butt"/>
<text transform="translate(1482.00 1412.55) scale(0.9390 1)" x="0.22" y="0" font-size="36.00" font-weight="normal" fill="#000" stroke="#000" stroke-width="1.6" stroke-linejoin="round">*</text>
<line x1="1428.5" y1="1430" x2="1644.6" y2="1430" stroke="#000" stroke-width="4.8" stroke-linecap="butt"/>
<text transform="translate(1585.40 1429.35) scale(0.9390 1)" x="0.22" y="0" font-size="36.00" font-weight="normal" fill="#000" stroke="#000" stroke-width="1.6" stroke-linejoin="round">*</text>
<rect x="1547.7" y="1473.7" width="23.3" height="23.8" fill="#000" stroke="none" stroke-width="0" rx="3.5" />
<text transform="translate(1585.90 1486.51) scale(1.0247 1)" x="-1.78" y="0" font-size="27.40" font-weight="bold" fill="#000">pp65</text>
<rect x="1552.0" y="1520.4" width="16.09999999999991" height="15.699999999999818" fill="#fff" stroke="#000" stroke-width="7" rx="3.5" />
<text transform="translate(1585.10 1537.31) scale(0.9600 1)" x="-1.95" y="0" font-size="28.83" font-weight="bold" fill="#000" letter-spacing="-0.255">IDO1</text>
<text transform="translate(1221.20 1787.24) scale(1.0585 1)" x="-0.84" y="0" font-size="26.38" font-weight="normal" fill="#000" stroke="#000" stroke-width="0.6" stroke-linejoin="round">oxLDL</text>
<text transform="translate(1224.50 1827.82) scale(1.0102 1)" x="-1.09" y="0" font-size="27.70" font-weight="normal" fill="#000" stroke="#000" stroke-width="0.6" stroke-linejoin="round">CAPE</text>
<text transform="translate(1340.80 1785.80) scale(1.4257 1)" x="-1.00" y="0" font-size="25.00" font-weight="bold" fill="#000">-</text>
<text transform="translate(1426.50 1787.87) scale(1.0220 1)" x="-1.21" y="0" font-size="28.37" font-weight="bold" fill="#000">+</text>
<text transform="translate(1521.00 1782.67) scale(1.5615 1)" x="-0.93" y="0" font-size="23.33" font-weight="bold" fill="#000">-</text>
<text transform="translate(1613.90 1787.87) scale(1.0150 1)" x="-1.21" y="0" font-size="28.37" font-weight="bold" fill="#000">+</text>
<text transform="translate(1340.80 1827.73) scale(1.6451 1)" x="-0.87" y="0" font-size="21.67" font-weight="bold" fill="#000">-</text>
<text transform="translate(1423.20 1827.73) scale(1.6634 1)" x="-0.87" y="0" font-size="21.67" font-weight="bold" fill="#000">-</text>
<text transform="translate(1519.00 1831.07) scale(1.0220 1)" x="-1.21" y="0" font-size="28.37" font-weight="bold" fill="#000">+</text>
<text transform="translate(1613.90 1831.07) scale(1.0150 1)" x="-1.21" y="0" font-size="28.37" font-weight="bold" fill="#000">+</text>
<text transform="translate(1210.48 1748.00) rotate(-90) scale(1.0271 1)" x="-2.54" y="0" font-size="39.14" font-weight="bold" fill="#000" stroke="#000" stroke-width="0.2" stroke-linejoin="round">Protein expression</text>
</g>
</svg>
</body></html>
